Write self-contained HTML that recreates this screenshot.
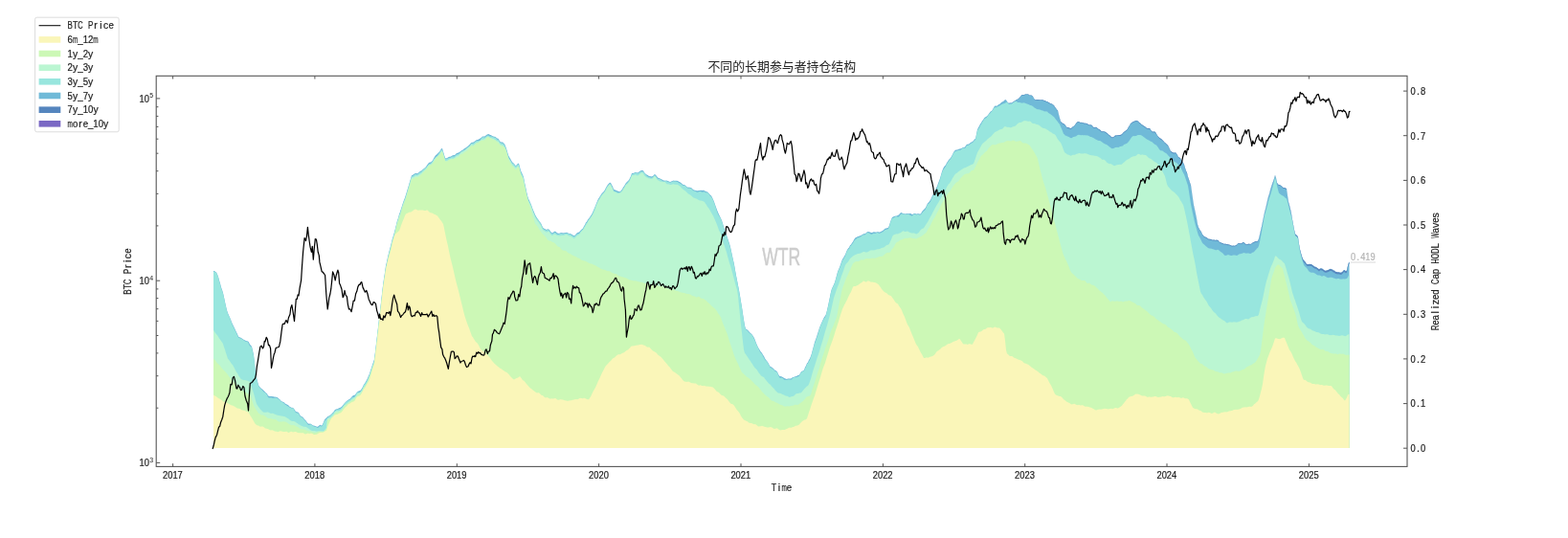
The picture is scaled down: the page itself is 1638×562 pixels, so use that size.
<!DOCTYPE html>
<html lang="zh"><head><meta charset="utf-8"><title>HODL Waves</title>
<style>
html,body{margin:0;padding:0;background:#fff;width:1638px;height:562px;overflow:hidden;font-family:"Liberation Sans",sans-serif}
svg{display:block}
</style></head><body>
<svg width="1638" height="562" viewBox="0 0 1638 562" font-family="'Liberation Sans', sans-serif"><defs><filter id="soft" x="0" y="0" width="100%" height="100%" filterUnits="userSpaceOnUse"><feGaussianBlur stdDeviation="0.45"/></filter></defs><g filter="url(#soft)"><rect width="1638" height="562" fill="#ffffff"/>
<g shape-rendering="geometricPrecision"><polygon fill="#70bad8" points="223.0,283.1 224.0,283.1 225.0,283.9 226.0,284.5 227.0,286.5 228.0,289.0 229.0,292.8 230.0,295.9 231.0,300.0 232.0,302.7 233.0,306.1 234.0,310.5 235.0,315.3 236.0,319.8 237.0,324.1 238.0,326.9 239.0,329.3 240.0,331.4 241.0,333.8 242.0,336.4 243.0,338.8 244.0,340.7 245.0,342.8 246.0,345.1 247.0,346.9 248.0,349.0 249.0,351.4 250.0,352.3 251.0,352.6 252.0,352.9 253.0,353.7 254.0,354.4 255.0,354.9 256.0,355.5 257.0,356.1 258.0,356.2 259.0,356.4 260.0,357.6 261.0,359.7 262.0,360.7 263.0,361.9 264.0,366.1 265.0,370.7 266.0,379.2 267.0,390.8 268.0,394.6 269.0,398.4 270.0,402.0 271.0,404.0 272.0,404.8 273.0,405.9 274.0,406.4 275.0,407.5 276.0,408.5 277.0,409.5 278.0,410.5 279.0,411.3 280.0,413.2 281.0,413.8 282.0,414.0 283.0,414.0 284.0,413.9 285.0,414.2 286.0,414.2 287.0,414.7 288.0,414.5 289.0,415.0 290.0,415.3 291.0,416.2 292.0,416.9 293.0,417.9 294.0,419.3 295.0,419.4 296.0,420.1 297.0,420.5 298.0,421.7 299.0,421.9 300.0,422.8 301.0,423.1 302.0,424.2 303.0,424.9 304.0,425.5 305.0,425.9 306.0,425.7 307.0,426.9 308.0,428.2 309.0,429.9 310.0,430.2 311.0,430.5 312.0,431.1 313.0,433.1 314.0,434.5 315.0,435.0 316.0,435.6 317.0,436.6 318.0,437.9 319.0,438.7 320.0,440.0 321.0,441.4 322.0,442.6 323.0,442.8 324.0,442.6 325.0,442.9 326.0,443.7 327.0,444.4 328.0,444.5 329.0,444.9 330.0,445.0 331.0,446.0 332.0,445.4 333.0,445.0 334.0,443.7 335.0,444.0 336.0,444.8 337.0,443.3 338.0,440.9 339.0,438.6 340.0,437.2 341.0,436.4 342.0,435.2 343.0,434.7 344.0,434.3 345.0,433.5 346.0,432.9 347.0,431.5 348.0,430.9 349.0,429.2 350.0,428.1 351.0,427.5 352.0,427.2 353.0,427.1 354.0,426.3 355.0,426.1 356.0,425.4 357.0,424.8 358.0,423.6 359.0,422.3 360.0,420.9 361.0,419.9 362.0,418.9 363.0,418.2 364.0,417.5 365.0,417.1 366.0,416.3 367.0,414.9 368.0,414.0 369.0,413.1 370.0,413.1 371.0,412.3 372.0,411.0 373.0,409.4 374.0,408.9 375.0,408.3 376.0,408.2 377.0,407.2 378.0,405.7 379.0,404.0 380.0,401.7 381.0,400.4 382.0,398.7 383.0,396.9 384.0,395.0 385.0,392.6 386.0,390.5 387.0,387.0 388.0,384.3 389.0,381.0 390.0,378.3 391.0,375.3 392.0,367.2 393.0,358.8 394.0,350.2 395.0,341.7 396.0,333.2 397.0,324.6 398.0,315.9 399.0,307.0 400.0,298.3 401.0,291.1 402.0,284.7 403.0,277.6 404.0,273.5 405.0,268.8 406.0,264.6 407.0,260.7 408.0,256.9 409.0,253.1 410.0,249.0 411.0,245.9 412.0,242.6 413.0,238.7 414.0,234.6 415.0,230.4 416.0,227.7 417.0,223.7 418.0,221.3 419.0,217.9 420.0,214.9 421.0,211.8 422.0,208.9 423.0,206.5 424.0,203.3 425.0,200.0 426.0,196.7 427.0,193.5 428.0,189.9 429.0,186.8 430.0,183.2 431.0,183.0 432.0,182.1 433.0,181.6 434.0,180.9 435.0,181.1 436.0,181.3 437.0,180.5 438.0,179.7 439.0,178.7 440.0,178.4 441.0,177.7 442.0,176.6 443.0,176.2 444.0,174.9 445.0,174.2 446.0,172.5 447.0,171.2 448.0,170.0 449.0,169.5 450.0,169.4 451.0,168.5 452.0,167.4 453.0,165.6 454.0,163.8 455.0,162.3 456.0,161.4 457.0,160.6 458.0,159.5 459.0,158.4 460.0,157.0 461.0,155.3 462.0,155.1 463.0,158.3 464.0,161.7 465.0,165.1 466.0,165.4 467.0,164.9 468.0,164.4 469.0,163.8 470.0,163.8 471.0,163.5 472.0,162.7 473.0,162.3 474.0,162.1 475.0,162.0 476.0,161.1 477.0,160.1 478.0,159.7 479.0,159.6 480.0,158.7 481.0,158.3 482.0,157.3 483.0,157.1 484.0,155.9 485.0,155.2 486.0,154.7 487.0,154.1 488.0,153.3 489.0,152.4 490.0,151.4 491.0,150.4 492.0,149.2 493.0,148.7 494.0,148.8 495.0,148.3 496.0,147.5 497.0,146.8 498.0,146.1 499.0,146.0 500.0,145.4 501.0,145.0 502.0,144.3 503.0,143.5 504.0,142.6 505.0,142.4 506.0,142.4 507.0,142.0 508.0,141.1 509.0,140.4 510.0,140.0 511.0,140.2 512.0,141.0 513.0,140.9 514.0,142.0 515.0,142.3 516.0,142.8 517.0,142.8 518.0,143.3 519.0,144.4 520.0,144.6 521.0,145.6 522.0,147.4 523.0,148.1 524.0,148.8 525.0,148.3 526.0,149.5 527.0,150.2 528.0,152.6 529.0,155.3 530.0,158.5 531.0,162.1 532.0,164.0 533.0,165.6 534.0,167.5 535.0,169.0 536.0,170.2 537.0,170.8 538.0,172.5 539.0,172.9 540.0,171.9 541.0,170.7 542.0,170.8 543.0,174.6 544.0,178.2 545.0,180.3 546.0,182.4 547.0,185.1 548.0,190.4 549.0,194.7 550.0,199.8 551.0,204.2 552.0,207.5 553.0,209.5 554.0,211.7 555.0,214.0 556.0,216.9 557.0,219.5 558.0,221.8 559.0,224.3 560.0,226.0 561.0,227.8 562.0,228.9 563.0,230.4 564.0,232.0 565.0,233.1 566.0,235.3 567.0,237.4 568.0,238.6 569.0,239.1 570.0,239.4 571.0,240.0 572.0,239.3 573.0,239.5 574.0,240.0 575.0,241.7 576.0,242.7 577.0,243.4 578.0,242.8 579.0,241.7 580.0,241.7 581.0,242.3 582.0,243.6 583.0,243.6 584.0,243.9 585.0,243.2 586.0,243.3 587.0,242.9 588.0,243.4 589.0,243.3 590.0,243.2 591.0,243.1 592.0,242.8 593.0,243.3 594.0,243.7 595.0,243.9 596.0,243.9 597.0,244.7 598.0,245.2 599.0,246.1 600.0,246.0 601.0,245.4 602.0,244.1 603.0,243.2 604.0,242.7 605.0,242.4 606.0,241.2 607.0,240.2 608.0,239.3 609.0,238.6 610.0,236.3 611.0,234.8 612.0,232.4 613.0,231.6 614.0,229.6 615.0,228.3 616.0,227.0 617.0,225.6 618.0,223.9 619.0,221.9 620.0,219.8 621.0,217.5 622.0,215.0 623.0,212.6 624.0,210.1 625.0,207.8 626.0,206.2 627.0,204.7 628.0,203.1 629.0,201.8 630.0,200.7 631.0,199.7 632.0,198.0 633.0,196.1 634.0,194.2 635.0,192.7 636.0,191.7 637.0,190.7 638.0,191.1 639.0,193.1 640.0,194.8 641.0,197.6 642.0,198.2 643.0,198.5 644.0,198.9 645.0,199.6 646.0,199.8 647.0,200.3 648.0,200.0 649.0,198.7 650.0,197.7 651.0,195.5 652.0,194.5 653.0,192.5 654.0,190.9 655.0,190.1 656.0,189.0 657.0,187.9 658.0,186.0 659.0,183.9 660.0,181.0 661.0,181.1 662.0,180.7 663.0,180.3 664.0,179.7 665.0,180.2 666.0,180.5 667.0,179.9 668.0,179.0 669.0,178.4 670.0,178.1 671.0,177.9 672.0,178.2 673.0,179.9 674.0,181.2 675.0,181.9 676.0,182.7 677.0,183.1 678.0,184.2 679.0,183.7 680.0,184.5 681.0,184.2 682.0,184.0 683.0,182.7 684.0,182.0 685.0,182.8 686.0,184.1 687.0,185.3 688.0,186.0 689.0,186.3 690.0,186.8 691.0,187.2 692.0,187.7 693.0,188.6 694.0,188.6 695.0,188.7 696.0,188.4 697.0,188.8 698.0,189.2 699.0,189.6 700.0,190.2 701.0,189.6 702.0,189.2 703.0,188.7 704.0,188.4 705.0,189.0 706.0,188.6 707.0,189.1 708.0,188.7 709.0,189.8 710.0,189.9 711.0,190.7 712.0,191.6 713.0,192.4 714.0,193.1 715.0,192.9 716.0,193.8 717.0,194.7 718.0,195.4 719.0,195.7 720.0,195.6 721.0,195.9 722.0,196.0 723.0,197.0 724.0,197.9 725.0,198.4 726.0,198.8 727.0,198.9 728.0,199.2 729.0,199.3 730.0,199.0 731.0,198.9 732.0,198.7 733.0,198.8 734.0,199.1 735.0,198.5 736.0,199.4 737.0,199.6 738.0,200.5 739.0,200.3 740.0,201.4 741.0,202.4 742.0,203.8 743.0,204.5 744.0,206.2 745.0,208.4 746.0,210.7 747.0,213.7 748.0,216.6 749.0,219.2 750.0,221.8 751.0,223.9 752.0,225.9 753.0,227.9 754.0,230.3 755.0,233.6 756.0,236.8 757.0,240.0 758.0,243.1 759.0,245.7 760.0,248.5 761.0,251.4 762.0,254.6 763.0,258.1 764.0,262.4 765.0,267.2 766.0,271.7 767.0,276.3 768.0,282.2 769.0,287.8 770.0,292.7 771.0,297.9 772.0,303.0 773.0,308.8 774.0,314.9 775.0,320.8 776.0,327.5 777.0,333.9 778.0,339.9 779.0,343.4 780.0,343.9 781.0,344.7 782.0,345.8 783.0,347.1 784.0,348.1 785.0,348.8 786.0,349.9 787.0,351.4 788.0,353.3 789.0,355.7 790.0,358.4 791.0,360.7 792.0,363.0 793.0,364.6 794.0,366.3 795.0,367.7 796.0,368.7 797.0,370.8 798.0,372.0 799.0,374.3 800.0,375.7 801.0,376.9 802.0,378.2 803.0,380.0 804.0,381.9 805.0,383.3 806.0,383.2 807.0,384.5 808.0,384.7 809.0,386.4 810.0,386.8 811.0,387.4 812.0,388.4 813.0,390.7 814.0,392.4 815.0,393.3 816.0,393.1 817.0,393.7 818.0,394.1 819.0,395.1 820.0,395.3 821.0,395.8 822.0,395.9 823.0,395.5 824.0,395.4 825.0,395.6 826.0,395.4 827.0,395.0 828.0,394.0 829.0,393.9 830.0,393.5 831.0,393.2 832.0,393.0 833.0,392.3 834.0,392.0 835.0,391.5 836.0,389.9 837.0,388.3 838.0,387.7 839.0,387.2 840.0,386.4 841.0,383.7 842.0,381.9 843.0,379.5 844.0,378.4 845.0,376.1 846.0,374.5 847.0,371.9 848.0,369.0 849.0,365.1 850.0,361.6 851.0,357.6 852.0,354.7 853.0,351.9 854.0,348.8 855.0,345.7 856.0,342.5 857.0,339.9 858.0,337.7 859.0,335.5 860.0,333.3 861.0,331.3 862.0,330.1 863.0,327.9 864.0,323.9 865.0,319.5 866.0,314.8 867.0,310.0 868.0,305.0 869.0,301.4 870.0,299.4 871.0,297.2 872.0,294.9 873.0,291.4 874.0,287.8 875.0,284.0 876.0,281.4 877.0,279.2 878.0,276.4 879.0,273.4 880.0,270.8 881.0,269.5 882.0,267.6 883.0,265.9 884.0,263.2 885.0,261.0 886.0,259.4 887.0,258.5 888.0,256.3 889.0,255.5 890.0,253.7 891.0,252.4 892.0,250.4 893.0,249.1 894.0,248.1 895.0,247.7 896.0,246.9 897.0,247.1 898.0,246.3 899.0,246.3 900.0,245.4 901.0,244.9 902.0,244.2 903.0,244.2 904.0,244.0 905.0,242.9 906.0,242.3 907.0,242.0 908.0,242.2 909.0,242.6 910.0,242.9 911.0,242.9 912.0,242.5 913.0,242.3 914.0,242.4 915.0,242.5 916.0,242.4 917.0,242.1 918.0,242.5 919.0,242.4 920.0,241.9 921.0,241.4 922.0,240.9 923.0,240.2 924.0,239.3 925.0,238.6 926.0,238.4 927.0,237.9 928.0,237.7 929.0,235.2 930.0,232.1 931.0,229.2 932.0,227.1 933.0,226.6 934.0,226.1 935.0,225.8 936.0,225.4 937.0,225.5 938.0,224.8 939.0,224.4 940.0,223.0 941.0,222.2 942.0,222.1 943.0,223.0 944.0,222.9 945.0,223.2 946.0,223.4 947.0,223.1 948.0,223.3 949.0,223.0 950.0,223.2 951.0,222.8 952.0,223.4 953.0,224.0 954.0,223.6 955.0,223.1 956.0,222.9 957.0,223.5 958.0,223.4 959.0,223.1 960.0,223.6 961.0,223.6 962.0,223.2 963.0,221.3 964.0,220.1 965.0,219.1 966.0,218.0 967.0,216.7 968.0,214.6 969.0,212.6 970.0,211.5 971.0,210.2 972.0,208.7 973.0,206.7 974.0,204.6 975.0,202.5 976.0,200.1 977.0,198.6 978.0,196.3 979.0,194.6 980.0,191.6 981.0,189.0 982.0,186.3 983.0,182.8 984.0,179.3 985.0,176.4 986.0,174.5 987.0,173.3 988.0,172.3 989.0,170.1 990.0,168.7 991.0,167.0 992.0,166.0 993.0,165.0 994.0,163.2 995.0,161.5 996.0,159.2 997.0,157.7 998.0,156.8 999.0,156.4 1000.0,156.4 1001.0,156.0 1002.0,155.4 1003.0,155.5 1004.0,155.0 1005.0,154.7 1006.0,153.8 1007.0,154.0 1008.0,153.5 1009.0,152.1 1010.0,150.8 1011.0,150.8 1012.0,150.5 1013.0,149.8 1014.0,148.8 1015.0,148.6 1016.0,147.7 1017.0,146.9 1018.0,145.3 1019.0,145.2 1020.0,140.0 1021.0,135.3 1022.0,133.3 1023.0,131.6 1024.0,129.4 1025.0,128.2 1026.0,126.3 1027.0,125.2 1028.0,123.6 1029.0,122.6 1030.0,122.0 1031.0,121.2 1032.0,120.3 1033.0,118.7 1034.0,117.6 1035.0,116.3 1036.0,115.9 1037.0,114.3 1038.0,112.4 1039.0,110.7 1040.0,110.6 1041.0,110.8 1042.0,110.3 1043.0,109.3 1044.0,108.7 1045.0,108.3 1046.0,107.3 1047.0,106.6 1048.0,105.9 1049.0,105.3 1050.0,104.3 1051.0,104.6 1052.0,105.9 1053.0,107.2 1054.0,108.0 1055.0,107.6 1056.0,107.7 1057.0,107.2 1058.0,106.8 1059.0,106.1 1060.0,105.6 1061.0,104.8 1062.0,104.0 1063.0,103.8 1064.0,103.0 1065.0,102.1 1066.0,100.8 1067.0,99.5 1068.0,99.1 1069.0,99.1 1070.0,99.0 1071.0,98.6 1072.0,98.2 1073.0,98.5 1074.0,98.6 1075.0,98.9 1076.0,99.7 1077.0,99.2 1078.0,100.0 1079.0,100.8 1080.0,102.7 1081.0,103.9 1082.0,104.5 1083.0,104.1 1084.0,103.9 1085.0,104.3 1086.0,104.2 1087.0,104.5 1088.0,104.2 1089.0,104.6 1090.0,104.4 1091.0,105.2 1092.0,105.3 1093.0,106.0 1094.0,105.9 1095.0,106.8 1096.0,107.3 1097.0,107.9 1098.0,108.5 1099.0,108.4 1100.0,109.4 1101.0,110.1 1102.0,112.0 1103.0,112.9 1104.0,114.4 1105.0,115.6 1106.0,119.7 1107.0,123.5 1108.0,126.8 1109.0,128.0 1110.0,128.8 1111.0,129.2 1112.0,129.8 1113.0,131.1 1114.0,132.4 1115.0,133.3 1116.0,133.1 1117.0,133.7 1118.0,133.7 1119.0,134.2 1120.0,132.8 1121.0,132.4 1122.0,131.4 1123.0,130.4 1124.0,128.9 1125.0,127.7 1126.0,127.3 1127.0,126.9 1128.0,127.7 1129.0,127.9 1130.0,127.8 1131.0,128.4 1132.0,128.2 1133.0,129.1 1134.0,128.4 1135.0,129.2 1136.0,129.2 1137.0,130.2 1138.0,130.4 1139.0,130.4 1140.0,130.6 1141.0,131.3 1142.0,132.7 1143.0,133.1 1144.0,132.9 1145.0,132.8 1146.0,133.6 1147.0,134.5 1148.0,134.9 1149.0,135.6 1150.0,136.5 1151.0,137.4 1152.0,137.3 1153.0,137.4 1154.0,137.5 1155.0,138.0 1156.0,138.8 1157.0,139.6 1158.0,140.5 1159.0,141.3 1160.0,142.1 1161.0,143.2 1162.0,143.6 1163.0,143.3 1164.0,142.4 1165.0,141.6 1166.0,141.5 1167.0,141.4 1168.0,141.3 1169.0,140.9 1170.0,141.1 1171.0,140.8 1172.0,140.2 1173.0,138.9 1174.0,138.0 1175.0,137.2 1176.0,136.4 1177.0,135.8 1178.0,134.6 1179.0,132.6 1180.0,130.9 1181.0,128.9 1182.0,128.5 1183.0,127.4 1184.0,127.3 1185.0,126.6 1186.0,126.6 1187.0,125.7 1188.0,126.5 1189.0,126.6 1190.0,128.0 1191.0,128.6 1192.0,129.5 1193.0,130.5 1194.0,130.7 1195.0,131.7 1196.0,132.0 1197.0,133.2 1198.0,133.8 1199.0,134.1 1200.0,133.9 1201.0,134.1 1202.0,135.4 1203.0,136.7 1204.0,137.7 1205.0,137.4 1206.0,137.5 1207.0,138.1 1208.0,139.7 1209.0,141.4 1210.0,142.7 1211.0,143.7 1212.0,144.6 1213.0,145.1 1214.0,145.9 1215.0,146.9 1216.0,147.9 1217.0,149.2 1218.0,149.8 1219.0,150.9 1220.0,151.8 1221.0,153.8 1222.0,155.9 1223.0,157.9 1224.0,158.6 1225.0,159.2 1226.0,159.6 1227.0,159.7 1228.0,159.2 1229.0,160.5 1230.0,162.0 1231.0,164.2 1232.0,164.4 1233.0,165.2 1234.0,167.1 1235.0,168.3 1236.0,170.1 1237.0,172.1 1238.0,175.6 1239.0,178.4 1240.0,180.6 1241.0,184.7 1242.0,187.6 1243.0,190.7 1244.0,193.6 1245.0,200.6 1246.0,207.5 1247.0,214.2 1248.0,218.8 1249.0,223.4 1250.0,228.6 1251.0,234.3 1252.0,237.5 1253.0,239.4 1254.0,240.9 1255.0,242.5 1256.0,244.8 1257.0,246.0 1258.0,247.2 1259.0,247.4 1260.0,248.0 1261.0,248.5 1262.0,249.5 1263.0,249.7 1264.0,249.8 1265.0,250.1 1266.0,250.4 1267.0,250.7 1268.0,250.5 1269.0,250.8 1270.0,250.9 1271.0,250.6 1272.0,251.0 1273.0,251.4 1274.0,252.9 1275.0,253.2 1276.0,253.7 1277.0,254.0 1278.0,254.5 1279.0,254.9 1280.0,254.6 1281.0,255.3 1282.0,255.0 1283.0,255.6 1284.0,255.4 1285.0,256.1 1286.0,256.6 1287.0,256.7 1288.0,256.8 1289.0,256.5 1290.0,256.9 1291.0,256.0 1292.0,255.7 1293.0,254.4 1294.0,254.3 1295.0,254.1 1296.0,254.4 1297.0,254.1 1298.0,253.5 1299.0,253.1 1300.0,253.7 1301.0,254.8 1302.0,255.2 1303.0,255.3 1304.0,254.8 1305.0,254.8 1306.0,254.9 1307.0,254.7 1308.0,254.0 1309.0,253.3 1310.0,253.1 1311.0,252.3 1312.0,252.3 1313.0,251.9 1314.0,251.7 1315.0,249.2 1316.0,244.9 1317.0,240.8 1318.0,236.6 1319.0,231.6 1320.0,226.4 1321.0,222.0 1322.0,218.2 1323.0,214.0 1324.0,209.5 1325.0,205.5 1326.0,202.4 1327.0,198.6 1328.0,195.3 1329.0,192.3 1330.0,189.6 1331.0,186.4 1332.0,182.9 1333.0,185.9 1334.0,190.7 1335.0,192.5 1336.0,193.1 1337.0,193.1 1338.0,193.9 1339.0,194.6 1340.0,195.8 1341.0,196.0 1342.0,196.2 1343.0,196.6 1344.0,197.2 1345.0,204.5 1346.0,211.1 1347.0,214.5 1348.0,218.6 1349.0,223.2 1350.0,229.2 1351.0,234.4 1352.0,240.0 1353.0,244.2 1354.0,245.4 1355.0,246.0 1356.0,247.9 1357.0,254.9 1358.0,260.5 1359.0,264.3 1360.0,267.7 1361.0,270.6 1362.0,272.0 1363.0,273.1 1364.0,274.3 1365.0,275.9 1366.0,275.9 1367.0,276.3 1368.0,275.7 1369.0,276.1 1370.0,275.9 1371.0,277.0 1372.0,277.6 1373.0,278.4 1374.0,278.8 1375.0,278.9 1376.0,280.0 1377.0,280.6 1378.0,281.6 1379.0,280.4 1380.0,280.4 1381.0,280.5 1382.0,281.2 1383.0,282.0 1384.0,282.7 1385.0,282.7 1386.0,282.6 1387.0,282.3 1388.0,281.8 1389.0,281.3 1390.0,280.7 1391.0,281.4 1392.0,281.5 1393.0,282.7 1394.0,282.6 1395.0,283.9 1396.0,283.8 1397.0,284.4 1398.0,284.2 1399.0,284.6 1400.0,284.7 1401.0,284.8 1402.0,284.2 1403.0,283.2 1404.0,282.0 1405.0,282.4 1406.0,283.4 1407.0,282.2 1408.0,277.6 1409.0,274.2 1409.5,273.5 1409.5,468.0 223.0,468.0"/><polygon fill="#5585be" points="1045.0,108.3 1046.0,107.3 1047.0,106.6 1048.0,105.9 1049.0,105.3 1050.0,104.3 1051.0,104.6 1052.0,105.9 1053.0,107.2 1054.0,108.0 1055.0,107.6 1056.0,107.7 1057.0,107.2 1058.0,106.8 1059.0,106.1 1060.0,105.6 1061.0,104.8 1062.0,104.0 1063.0,103.8 1064.0,103.0 1065.0,102.1 1066.0,100.8 1067.0,99.5 1068.0,99.1 1069.0,99.1 1070.0,99.0 1071.0,98.6 1072.0,98.2 1073.0,98.5 1074.0,98.6 1075.0,98.9 1076.0,99.7 1077.0,99.2 1078.0,100.0 1079.0,100.8 1080.0,102.7 1081.0,103.9 1082.0,104.5 1083.0,104.1 1084.0,103.9 1085.0,104.3 1086.0,104.2 1087.0,104.5 1088.0,104.2 1089.0,104.6 1090.0,104.4 1091.0,105.2 1092.0,105.3 1093.0,106.0 1094.0,105.9 1095.0,106.8 1096.0,107.3 1097.0,107.9 1098.0,108.5 1099.0,108.4 1100.0,109.4 1101.0,110.1 1102.0,112.0 1103.0,112.9 1104.0,114.4 1105.0,115.6 1106.0,119.7 1107.0,123.5 1108.0,126.8 1109.0,128.0 1110.0,128.8 1111.0,129.2 1112.0,129.8 1113.0,131.1 1114.0,132.4 1115.0,133.3 1116.0,133.1 1117.0,133.7 1118.0,133.7 1119.0,134.2 1120.0,132.8 1121.0,132.4 1122.0,131.4 1123.0,130.4 1124.0,128.9 1125.0,127.7 1126.0,127.3 1127.0,126.9 1128.0,127.7 1129.0,127.9 1130.0,127.8 1131.0,128.4 1132.0,128.2 1133.0,129.1 1134.0,128.4 1135.0,129.2 1136.0,129.2 1137.0,130.2 1138.0,130.4 1139.0,130.4 1140.0,130.6 1141.0,131.3 1142.0,132.7 1143.0,133.1 1144.0,132.9 1145.0,132.8 1146.0,133.6 1147.0,134.5 1148.0,134.9 1149.0,135.6 1150.0,136.5 1151.0,137.4 1152.0,137.3 1153.0,137.4 1154.0,137.5 1155.0,138.0 1156.0,138.8 1157.0,139.6 1158.0,140.5 1159.0,141.3 1160.0,142.1 1161.0,143.2 1162.0,143.6 1163.0,143.3 1164.0,142.4 1165.0,141.6 1166.0,141.5 1167.0,141.4 1168.0,141.3 1169.0,140.9 1170.0,141.1 1171.0,140.8 1172.0,140.2 1173.0,138.9 1174.0,138.0 1175.0,137.2 1176.0,136.4 1177.0,135.8 1178.0,134.6 1179.0,132.6 1180.0,130.9 1181.0,128.9 1182.0,128.5 1183.0,127.4 1184.0,127.3 1185.0,126.6 1186.0,126.6 1187.0,125.7 1188.0,126.5 1189.0,126.6 1190.0,128.0 1191.0,128.6 1192.0,129.5 1193.0,130.5 1194.0,130.7 1195.0,131.7 1196.0,132.0 1197.0,133.2 1198.0,133.8 1199.0,134.1 1200.0,133.9 1201.0,134.1 1202.0,135.4 1203.0,136.7 1204.0,137.7 1205.0,137.4 1206.0,137.5 1207.0,138.1 1208.0,139.7 1209.0,141.4 1210.0,142.7 1211.0,143.7 1212.0,144.6 1213.0,145.1 1214.0,145.9 1215.0,146.9 1216.0,147.9 1217.0,149.2 1218.0,149.8 1219.0,150.9 1220.0,151.8 1221.0,153.8 1222.0,155.9 1223.0,157.9 1224.0,158.6 1225.0,159.2 1226.0,159.6 1227.0,159.7 1228.0,159.2 1229.0,160.5 1230.0,162.0 1231.0,164.2 1232.0,164.4 1233.0,165.2 1234.0,167.1 1235.0,168.3 1236.0,170.1 1237.0,172.1 1238.0,175.6 1239.0,178.4 1240.0,180.6 1241.0,184.7 1242.0,187.6 1243.0,190.7 1244.0,193.6 1245.0,200.6 1246.0,207.5 1247.0,214.2 1248.0,218.8 1249.0,223.4 1250.0,228.6 1251.0,234.3 1252.0,237.5 1253.0,239.4 1254.0,240.9 1255.0,242.5 1256.0,244.8 1257.0,246.0 1258.0,247.2 1259.0,247.4 1260.0,248.0 1261.0,248.5 1262.0,249.5 1263.0,249.7 1264.0,249.8 1265.0,250.1 1266.0,250.4 1267.0,250.7 1268.0,250.5 1269.0,250.8 1270.0,250.9 1271.0,250.6 1272.0,251.0 1273.0,251.4 1274.0,252.9 1275.0,253.2 1276.0,253.7 1277.0,254.0 1278.0,254.5 1279.0,254.9 1280.0,254.6 1281.0,255.3 1282.0,255.0 1283.0,255.6 1284.0,255.4 1285.0,256.1 1286.0,256.6 1287.0,256.7 1288.0,256.8 1289.0,256.5 1290.0,256.9 1291.0,256.0 1292.0,255.7 1293.0,254.4 1294.0,254.3 1295.0,254.1 1296.0,254.4 1297.0,254.1 1298.0,253.5 1299.0,253.1 1300.0,253.7 1301.0,254.8 1302.0,255.2 1303.0,255.3 1304.0,254.8 1305.0,254.8 1306.0,254.9 1307.0,254.7 1308.0,254.0 1309.0,253.3 1310.0,253.1 1311.0,252.3 1312.0,252.3 1313.0,251.9 1314.0,251.7 1315.0,249.2 1316.0,244.9 1317.0,240.8 1318.0,236.6 1319.0,231.6 1320.0,226.4 1321.0,222.0 1322.0,218.2 1323.0,214.0 1324.0,209.5 1325.0,205.5 1326.0,202.4 1327.0,198.6 1328.0,195.3 1329.0,192.3 1330.0,189.6 1331.0,186.4 1332.0,182.9 1333.0,185.9 1334.0,190.7 1335.0,192.5 1336.0,193.1 1337.0,193.1 1338.0,193.9 1339.0,194.6 1340.0,195.8 1341.0,196.0 1342.0,196.2 1343.0,196.6 1344.0,197.2 1345.0,204.5 1346.0,211.1 1347.0,214.5 1348.0,218.6 1349.0,223.2 1350.0,229.2 1351.0,234.4 1352.0,240.0 1353.0,244.2 1354.0,245.4 1355.0,246.0 1356.0,247.9 1357.0,254.9 1358.0,260.5 1359.0,264.3 1360.0,267.7 1361.0,270.6 1362.0,272.0 1363.0,273.1 1364.0,274.3 1365.0,275.9 1366.0,275.9 1367.0,276.3 1368.0,275.7 1369.0,276.1 1370.0,275.9 1371.0,277.0 1372.0,277.6 1373.0,278.4 1374.0,278.8 1375.0,278.9 1376.0,280.0 1377.0,280.6 1378.0,281.6 1379.0,280.4 1380.0,280.4 1381.0,280.5 1382.0,281.2 1383.0,282.0 1384.0,282.7 1385.0,282.7 1386.0,282.6 1387.0,282.3 1388.0,281.8 1389.0,281.3 1390.0,280.7 1391.0,281.4 1392.0,281.5 1393.0,282.7 1394.0,282.6 1395.0,283.9 1396.0,283.8 1397.0,284.4 1398.0,284.2 1399.0,284.6 1400.0,284.7 1401.0,284.8 1402.0,284.2 1403.0,283.2 1404.0,282.0 1405.0,282.4 1406.0,283.4 1407.0,282.2 1408.0,277.6 1409.0,274.2 1409.5,273.5 1409.5,275.7 1409.0,276.3 1408.0,279.7 1407.0,284.4 1406.0,285.5 1405.0,284.5 1404.0,284.1 1403.0,285.3 1402.0,286.3 1401.0,286.9 1400.0,286.8 1399.0,286.6 1398.0,286.3 1397.0,286.4 1396.0,285.9 1395.0,285.9 1394.0,284.6 1393.0,284.7 1392.0,283.5 1391.0,283.3 1390.0,282.7 1389.0,283.3 1388.0,283.7 1387.0,284.2 1386.0,284.6 1385.0,284.7 1384.0,284.6 1383.0,283.9 1382.0,283.1 1381.0,282.4 1380.0,282.3 1379.0,282.3 1378.0,283.5 1377.0,282.5 1376.0,281.8 1375.0,280.8 1374.0,280.7 1373.0,280.3 1372.0,279.5 1371.0,278.8 1370.0,277.7 1369.0,277.9 1368.0,277.5 1367.0,278.1 1366.0,277.7 1365.0,277.6 1364.0,276.0 1363.0,274.9 1362.0,273.7 1361.0,272.3 1360.0,269.4 1359.0,265.9 1358.0,262.1 1357.0,256.4 1356.0,249.4 1355.0,247.4 1354.0,246.8 1353.0,245.5 1352.0,241.3 1351.0,235.6 1350.0,230.4 1349.0,224.4 1348.0,219.7 1347.0,215.5 1346.0,212.1 1345.0,205.4 1344.0,198.0 1343.0,197.4 1342.0,197.0 1341.0,196.8 1340.0,196.5 1339.0,195.3 1338.0,194.6 1337.0,193.8 1336.0,193.7 1335.0,193.2 1334.0,191.4 1333.0,186.6 1332.0,183.6 1331.0,187.1 1330.0,190.3 1329.0,193.0 1328.0,196.0 1327.0,199.3 1326.0,203.1 1325.0,206.2 1324.0,210.2 1323.0,214.7 1322.0,218.9 1321.0,222.7 1320.0,227.1 1319.0,232.3 1318.0,237.3 1317.0,241.5 1316.0,245.6 1315.0,249.8 1314.0,252.4 1313.0,252.6 1312.0,252.9 1311.0,253.0 1310.0,253.7 1309.0,254.0 1308.0,254.6 1307.0,255.3 1306.0,255.6 1305.0,255.5 1304.0,255.5 1303.0,256.0 1302.0,255.8 1301.0,255.5 1300.0,254.4 1299.0,253.8 1298.0,254.2 1297.0,254.8 1296.0,255.1 1295.0,254.8 1294.0,255.0 1293.0,255.1 1292.0,256.4 1291.0,256.7 1290.0,257.6 1289.0,257.2 1288.0,257.5 1287.0,257.4 1286.0,257.3 1285.0,256.8 1284.0,256.1 1283.0,256.4 1282.0,255.8 1281.0,256.0 1280.0,255.3 1279.0,255.6 1278.0,255.3 1277.0,254.7 1276.0,254.5 1275.0,253.9 1274.0,253.6 1273.0,252.2 1272.0,251.7 1271.0,251.4 1270.0,251.6 1269.0,251.5 1268.0,251.3 1267.0,251.5 1266.0,251.1 1265.0,250.9 1264.0,250.5 1263.0,250.4 1262.0,250.3 1261.0,249.2 1260.0,248.7 1259.0,248.2 1258.0,247.9 1257.0,246.7 1256.0,245.5 1255.0,243.2 1254.0,241.7 1253.0,240.1 1252.0,238.3 1251.0,235.0 1250.0,229.4 1249.0,224.2 1248.0,219.6 1247.0,215.0 1246.0,208.3 1245.0,201.3 1244.0,194.4 1243.0,191.5 1242.0,188.4 1241.0,185.5 1240.0,181.4 1239.0,179.2 1238.0,176.4 1237.0,172.9 1236.0,170.9 1235.0,169.1 1234.0,167.9 1233.0,166.0 1232.0,165.2 1231.0,165.0 1230.0,162.8 1229.0,161.3 1228.0,160.0 1227.0,160.5 1226.0,160.4 1225.0,160.0 1224.0,159.4 1223.0,158.7 1222.0,156.7 1221.0,154.6 1220.0,152.6 1219.0,151.7 1218.0,150.5 1217.0,150.0 1216.0,148.6 1215.0,147.7 1214.0,146.7 1213.0,145.9 1212.0,145.4 1211.0,144.5 1210.0,143.5 1209.0,142.1 1208.0,140.5 1207.0,138.9 1206.0,138.2 1205.0,138.2 1204.0,138.5 1203.0,137.5 1202.0,136.1 1201.0,134.9 1200.0,134.7 1199.0,134.8 1198.0,134.6 1197.0,134.0 1196.0,132.8 1195.0,132.5 1194.0,131.4 1193.0,131.3 1192.0,130.3 1191.0,129.3 1190.0,128.7 1189.0,127.3 1188.0,127.3 1187.0,126.5 1186.0,127.3 1185.0,127.3 1184.0,128.0 1183.0,128.2 1182.0,129.3 1181.0,129.6 1180.0,131.6 1179.0,133.4 1178.0,135.3 1177.0,136.6 1176.0,137.2 1175.0,137.9 1174.0,138.8 1173.0,139.7 1172.0,140.9 1171.0,141.5 1170.0,141.9 1169.0,141.6 1168.0,142.0 1167.0,142.1 1166.0,142.2 1165.0,142.4 1164.0,143.1 1163.0,144.0 1162.0,144.3 1161.0,143.9 1160.0,142.9 1159.0,142.0 1158.0,141.2 1157.0,140.3 1156.0,139.6 1155.0,138.7 1154.0,138.2 1153.0,138.1 1152.0,138.0 1151.0,138.2 1150.0,137.3 1149.0,136.4 1148.0,135.6 1147.0,135.2 1146.0,134.3 1145.0,133.5 1144.0,133.6 1143.0,133.8 1142.0,133.4 1141.0,132.0 1140.0,131.3 1139.0,131.2 1138.0,131.1 1137.0,130.9 1136.0,129.9 1135.0,129.9 1134.0,129.1 1133.0,129.8 1132.0,128.9 1131.0,129.1 1130.0,128.5 1129.0,128.6 1128.0,128.4 1127.0,127.6 1126.0,128.0 1125.0,128.5 1124.0,129.7 1123.0,131.1 1122.0,132.1 1121.0,133.1 1120.0,133.6 1119.0,135.0 1118.0,134.4 1117.0,134.4 1116.0,133.9 1115.0,134.0 1114.0,133.1 1113.0,131.8 1112.0,130.5 1111.0,129.9 1110.0,129.5 1109.0,128.7 1108.0,127.5 1107.0,124.2 1106.0,120.4 1105.0,116.3 1104.0,115.1 1103.0,113.6 1102.0,112.7 1101.0,110.8 1100.0,110.1 1099.0,109.1 1098.0,109.2 1097.0,108.6 1096.0,108.0 1095.0,107.4 1094.0,106.5 1093.0,106.6 1092.0,105.9 1091.0,105.9 1090.0,105.0 1089.0,105.2 1088.0,104.8 1087.0,105.0 1086.0,104.8 1085.0,104.9 1084.0,104.5 1083.0,104.7 1082.0,105.0 1081.0,104.5 1080.0,103.2 1079.0,101.3 1078.0,100.4 1077.0,99.7 1076.0,100.1 1075.0,99.4 1074.0,99.1 1073.0,98.9 1072.0,98.6 1071.0,99.0 1070.0,99.4 1069.0,99.4 1068.0,99.5 1067.0,99.9 1066.0,101.2 1065.0,102.4 1064.0,103.4 1063.0,104.1 1062.0,104.4 1061.0,105.1 1060.0,105.9 1059.0,106.4 1058.0,107.1 1057.0,107.4 1056.0,108.0 1055.0,107.9 1054.0,108.3 1053.0,107.4 1052.0,106.1 1051.0,104.8 1050.0,104.5 1049.0,105.4 1048.0,106.1 1047.0,106.7 1046.0,107.4 1045.0,108.5"/><polygon fill="#98e6de" points="223.0,283.7 224.0,283.8 225.0,284.5 226.0,285.1 227.0,287.1 228.0,289.6 229.0,294.1 230.0,297.1 231.0,301.2 232.0,303.4 233.0,306.7 234.0,311.1 235.0,315.9 236.0,320.4 237.0,324.8 238.0,327.7 239.0,329.9 240.0,332.1 241.0,334.6 242.0,337.6 243.0,340.1 244.0,341.8 245.0,343.9 246.0,346.0 247.0,348.0 248.0,350.2 249.0,352.6 250.0,353.1 251.0,353.4 252.0,353.6 253.0,354.4 254.0,355.0 255.0,355.7 256.0,356.5 257.0,356.8 258.0,356.8 259.0,357.5 260.0,359.5 261.0,361.4 262.0,362.0 263.0,362.9 264.0,367.4 265.0,371.9 266.0,380.1 267.0,391.8 268.0,395.7 269.0,399.4 270.0,402.8 271.0,404.7 272.0,405.7 273.0,407.1 274.0,407.6 275.0,408.9 276.0,409.8 277.0,410.3 278.0,411.3 279.0,412.4 280.0,415.0 281.0,415.5 282.0,415.4 283.0,415.3 284.0,415.5 285.0,415.9 286.0,415.7 287.0,415.8 288.0,415.6 289.0,415.8 290.0,416.2 291.0,417.0 292.0,417.7 293.0,418.5 294.0,419.9 295.0,420.0 296.0,421.0 297.0,421.4 298.0,422.7 299.0,423.0 300.0,424.2 301.0,424.2 302.0,425.2 303.0,425.7 304.0,426.2 305.0,426.5 306.0,426.3 307.0,427.5 308.0,429.4 309.0,431.1 310.0,431.5 311.0,431.3 312.0,432.3 313.0,434.3 314.0,435.6 315.0,435.6 316.0,436.4 317.0,437.4 318.0,439.1 319.0,439.7 320.0,441.0 321.0,442.4 322.0,443.8 323.0,443.9 324.0,443.3 325.0,443.5 326.0,444.3 327.0,445.1 328.0,445.6 329.0,445.7 330.0,445.6 331.0,446.7 332.0,446.7 333.0,446.4 334.0,445.0 335.0,445.2 336.0,445.4 337.0,444.2 338.0,441.8 339.0,440.0 340.0,438.7 341.0,437.8 342.0,436.4 343.0,435.4 344.0,434.9 345.0,434.1 346.0,433.5 347.0,432.3 348.0,431.8 349.0,430.1 350.0,429.3 351.0,428.4 352.0,427.8 353.0,427.7 354.0,427.2 355.0,427.4 356.0,426.5 357.0,425.7 358.0,424.4 359.0,423.1 360.0,421.5 361.0,420.6 362.0,419.5 363.0,419.0 364.0,418.1 365.0,418.0 366.0,417.0 367.0,415.9 368.0,415.0 369.0,414.7 370.0,414.7 371.0,413.6 372.0,411.6 373.0,410.0 374.0,409.6 375.0,409.9 376.0,409.6 377.0,408.3 378.0,406.6 379.0,404.7 380.0,402.3 381.0,401.0 382.0,399.8 383.0,398.0 384.0,396.6 385.0,393.8 386.0,391.5 387.0,388.1 388.0,385.3 389.0,382.4 390.0,379.6 391.0,376.7 392.0,368.2 393.0,359.7 394.0,351.2 395.0,342.7 396.0,333.8 397.0,325.2 398.0,316.8 399.0,308.1 400.0,299.6 401.0,292.5 402.0,286.5 403.0,279.5 404.0,275.3 405.0,270.1 406.0,265.7 407.0,261.8 408.0,258.2 409.0,253.9 410.0,249.6 411.0,246.5 412.0,243.2 413.0,239.3 414.0,235.2 415.0,231.0 416.0,228.5 417.0,224.7 418.0,222.4 419.0,219.1 420.0,216.1 421.0,213.1 422.0,209.8 423.0,207.5 424.0,204.2 425.0,201.2 426.0,197.7 427.0,194.2 428.0,190.6 429.0,187.5 430.0,184.2 431.0,184.3 432.0,183.3 433.0,182.6 434.0,181.7 435.0,182.3 436.0,182.2 437.0,181.2 438.0,180.5 439.0,179.8 440.0,179.5 441.0,178.3 442.0,177.2 443.0,176.8 444.0,175.5 445.0,175.1 446.0,173.9 447.0,172.6 448.0,171.5 449.0,171.0 450.0,170.8 451.0,169.3 452.0,168.2 453.0,166.6 454.0,165.6 455.0,164.3 456.0,163.3 457.0,162.5 458.0,160.8 459.0,159.6 460.0,157.8 461.0,156.6 462.0,156.5 463.0,159.2 464.0,162.5 465.0,165.7 466.0,166.6 467.0,165.8 468.0,165.6 469.0,164.9 470.0,165.0 471.0,164.5 472.0,163.8 473.0,163.5 474.0,163.5 475.0,163.2 476.0,162.1 477.0,161.6 478.0,161.1 479.0,161.1 480.0,159.9 481.0,159.3 482.0,158.0 483.0,157.8 484.0,156.9 485.0,156.6 486.0,156.2 487.0,155.2 488.0,154.3 489.0,153.5 490.0,152.9 491.0,151.9 492.0,150.3 493.0,149.8 494.0,149.7 495.0,149.6 496.0,148.2 497.0,147.8 498.0,146.9 499.0,147.3 500.0,146.9 501.0,146.9 502.0,145.8 503.0,144.3 504.0,143.2 505.0,143.3 506.0,143.5 507.0,143.3 508.0,142.3 509.0,141.6 510.0,141.4 511.0,141.9 512.0,142.5 513.0,142.3 514.0,142.7 515.0,142.9 516.0,143.4 517.0,143.4 518.0,144.0 519.0,145.4 520.0,145.8 521.0,146.6 522.0,148.2 523.0,149.0 524.0,149.7 525.0,149.4 526.0,150.6 527.0,151.4 528.0,153.9 529.0,156.6 530.0,159.8 531.0,163.5 532.0,165.5 533.0,167.2 534.0,168.7 535.0,170.2 536.0,171.1 537.0,171.5 538.0,173.3 539.0,173.6 540.0,172.8 541.0,171.8 542.0,171.9 543.0,176.1 544.0,179.5 545.0,181.8 546.0,183.5 547.0,186.2 548.0,191.9 549.0,196.4 550.0,201.8 551.0,205.6 552.0,209.0 553.0,210.5 554.0,212.5 555.0,214.7 556.0,218.0 557.0,220.7 558.0,222.9 559.0,225.2 560.0,226.9 561.0,228.5 562.0,229.5 563.0,231.0 564.0,232.6 565.0,233.7 566.0,235.9 567.0,238.0 568.0,239.4 569.0,239.8 570.0,240.4 571.0,240.7 572.0,240.0 573.0,240.3 574.0,241.0 575.0,242.8 576.0,243.8 577.0,244.4 578.0,243.9 579.0,243.1 580.0,243.0 581.0,243.7 582.0,244.7 583.0,244.7 584.0,244.7 585.0,244.1 586.0,244.2 587.0,244.1 588.0,244.5 589.0,244.3 590.0,244.1 591.0,244.0 592.0,243.4 593.0,244.0 594.0,244.3 595.0,244.6 596.0,244.7 597.0,245.7 598.0,246.2 599.0,247.0 600.0,247.0 601.0,246.3 602.0,244.9 603.0,244.4 604.0,244.1 605.0,244.0 606.0,242.2 607.0,241.2 608.0,239.9 609.0,239.5 610.0,236.9 611.0,236.1 612.0,233.3 613.0,232.9 614.0,230.7 615.0,229.3 616.0,227.7 617.0,226.5 618.0,225.4 619.0,223.1 620.0,220.6 621.0,218.1 622.0,215.6 623.0,213.2 624.0,211.2 625.0,209.1 626.0,207.6 627.0,205.6 628.0,204.1 629.0,203.1 630.0,201.8 631.0,201.0 632.0,198.9 633.0,197.1 634.0,195.0 635.0,194.1 636.0,193.1 637.0,192.0 638.0,192.4 639.0,194.5 640.0,196.5 641.0,199.2 642.0,199.7 643.0,200.0 644.0,200.3 645.0,200.9 646.0,201.3 647.0,201.2 648.0,200.8 649.0,199.5 650.0,199.0 651.0,196.8 652.0,195.5 653.0,193.7 654.0,192.1 655.0,191.4 656.0,190.0 657.0,189.0 658.0,187.0 659.0,185.1 660.0,182.0 661.0,182.0 662.0,181.5 663.0,181.1 664.0,180.3 665.0,180.8 666.0,181.3 667.0,181.0 668.0,180.0 669.0,179.2 670.0,179.5 671.0,179.1 672.0,179.5 673.0,180.5 674.0,181.8 675.0,182.9 676.0,183.9 677.0,184.5 678.0,185.3 679.0,185.1 680.0,185.8 681.0,185.4 682.0,185.0 683.0,183.5 684.0,183.2 685.0,183.9 686.0,185.3 687.0,186.4 688.0,186.9 689.0,186.9 690.0,187.5 691.0,188.1 692.0,189.0 693.0,189.6 694.0,189.2 695.0,189.3 696.0,189.1 697.0,189.7 698.0,190.2 699.0,190.2 700.0,190.8 701.0,190.2 702.0,190.0 703.0,189.6 704.0,189.2 705.0,189.8 706.0,189.3 707.0,190.0 708.0,189.7 709.0,191.2 710.0,191.3 711.0,192.1 712.0,192.5 713.0,193.6 714.0,193.9 715.0,193.6 716.0,194.4 717.0,195.3 718.0,196.2 719.0,196.8 720.0,196.6 721.0,196.8 722.0,196.7 723.0,198.0 724.0,199.1 725.0,199.4 726.0,199.5 727.0,200.1 728.0,200.8 729.0,200.8 730.0,200.2 731.0,200.0 732.0,200.1 733.0,200.6 734.0,200.8 735.0,200.2 736.0,200.6 737.0,200.9 738.0,201.4 739.0,201.1 740.0,202.1 741.0,203.2 742.0,204.9 743.0,205.5 744.0,207.3 745.0,209.3 746.0,211.7 747.0,214.7 748.0,217.8 749.0,221.1 750.0,223.4 751.0,225.4 752.0,226.7 753.0,228.8 754.0,231.2 755.0,234.3 756.0,237.6 757.0,241.1 758.0,243.9 759.0,246.6 760.0,249.3 761.0,252.4 762.0,255.6 763.0,259.1 764.0,263.5 765.0,268.4 766.0,272.6 767.0,277.4 768.0,283.0 769.0,288.7 770.0,293.4 771.0,298.6 772.0,304.1 773.0,309.6 774.0,315.7 775.0,321.4 776.0,328.7 777.0,334.9 778.0,341.3 779.0,344.1 780.0,344.9 781.0,345.4 782.0,346.9 783.0,348.0 784.0,348.7 785.0,349.4 786.0,350.5 787.0,352.5 788.0,354.5 789.0,356.8 790.0,359.2 791.0,361.6 792.0,363.6 793.0,365.5 794.0,367.7 795.0,369.1 796.0,370.0 797.0,371.9 798.0,373.7 799.0,375.4 800.0,376.7 801.0,377.6 802.0,379.1 803.0,380.9 804.0,382.7 805.0,384.5 806.0,384.3 807.0,385.7 808.0,385.5 809.0,387.5 810.0,387.8 811.0,388.5 812.0,389.1 813.0,391.7 814.0,393.7 815.0,395.1 816.0,394.4 817.0,394.7 818.0,395.3 819.0,396.6 820.0,396.7 821.0,396.8 822.0,396.8 823.0,396.5 824.0,396.2 825.0,396.6 826.0,396.6 827.0,396.4 828.0,394.8 829.0,394.5 830.0,394.1 831.0,394.2 832.0,394.1 833.0,393.6 834.0,393.2 835.0,392.6 836.0,390.5 837.0,388.9 838.0,388.3 839.0,387.8 840.0,387.2 841.0,385.1 842.0,383.3 843.0,380.6 844.0,379.6 845.0,377.4 846.0,376.0 847.0,372.9 848.0,369.7 849.0,365.9 850.0,362.5 851.0,359.1 852.0,356.4 853.0,353.6 854.0,350.5 855.0,347.2 856.0,343.6 857.0,340.8 858.0,338.4 859.0,336.2 860.0,333.9 861.0,332.4 862.0,331.2 863.0,328.7 864.0,324.6 865.0,320.4 866.0,315.8 867.0,310.8 868.0,305.6 869.0,302.0 870.0,300.1 871.0,297.9 872.0,295.6 873.0,292.2 874.0,288.7 875.0,284.9 876.0,282.2 877.0,280.2 878.0,277.7 879.0,274.7 880.0,272.0 881.0,270.8 882.0,269.0 883.0,267.2 884.0,264.3 885.0,262.0 886.0,260.5 887.0,260.0 888.0,257.6 889.0,256.6 890.0,255.0 891.0,253.9 892.0,252.0 893.0,250.8 894.0,249.7 895.0,249.2 896.0,248.0 897.0,248.5 898.0,247.5 899.0,247.5 900.0,246.4 901.0,245.8 902.0,245.3 903.0,245.5 904.0,245.0 905.0,243.7 906.0,243.0 907.0,243.2 908.0,243.4 909.0,244.3 910.0,244.7 911.0,244.8 912.0,243.9 913.0,243.8 914.0,244.0 915.0,243.6 916.0,243.2 917.0,242.8 918.0,244.0 919.0,243.6 920.0,243.4 921.0,242.4 922.0,242.4 923.0,241.4 924.0,240.6 925.0,239.9 926.0,239.8 927.0,239.5 928.0,239.1 929.0,236.4 930.0,233.1 931.0,230.1 932.0,228.0 933.0,227.8 934.0,227.2 935.0,226.6 936.0,226.0 937.0,226.6 938.0,226.5 939.0,226.4 940.0,224.9 941.0,223.7 942.0,223.4 943.0,223.6 944.0,223.5 945.0,223.8 946.0,224.2 947.0,223.7 948.0,223.9 949.0,223.6 950.0,224.4 951.0,224.7 952.0,225.6 953.0,225.6 954.0,224.2 955.0,223.7 956.0,223.8 957.0,224.6 958.0,224.3 959.0,223.7 960.0,224.5 961.0,224.6 962.0,224.3 963.0,222.7 964.0,221.5 965.0,220.6 966.0,219.7 967.0,218.2 968.0,215.7 969.0,213.5 970.0,212.9 971.0,211.8 972.0,210.5 973.0,208.0 974.0,206.1 975.0,203.7 976.0,201.4 977.0,199.9 978.0,197.7 979.0,196.2 980.0,193.3 981.0,190.5 982.0,187.7 983.0,183.6 984.0,180.5 985.0,178.0 986.0,176.5 987.0,175.2 988.0,173.6 989.0,171.5 990.0,170.0 991.0,168.4 992.0,167.1 993.0,166.2 994.0,164.3 995.0,162.6 996.0,160.1 997.0,158.9 998.0,158.0 999.0,157.7 1000.0,157.5 1001.0,157.1 1002.0,156.8 1003.0,156.9 1004.0,156.2 1005.0,155.3 1006.0,154.4 1007.0,154.6 1008.0,154.9 1009.0,153.4 1010.0,152.0 1011.0,151.9 1012.0,151.6 1013.0,151.0 1014.0,149.9 1015.0,149.5 1016.0,149.0 1017.0,148.0 1018.0,146.6 1019.0,146.2 1020.0,141.0 1021.0,136.4 1022.0,134.7 1023.0,133.4 1024.0,131.2 1025.0,129.7 1026.0,127.7 1027.0,126.2 1028.0,124.7 1029.0,123.6 1030.0,123.4 1031.0,122.3 1032.0,121.0 1033.0,119.6 1034.0,118.7 1035.0,117.4 1036.0,116.5 1037.0,114.9 1038.0,113.5 1039.0,112.1 1040.0,112.4 1041.0,111.8 1042.0,111.4 1043.0,111.0 1044.0,110.4 1045.0,110.0 1046.0,109.3 1047.0,108.8 1048.0,108.5 1049.0,108.0 1050.0,107.7 1051.0,107.0 1052.0,106.8 1053.0,107.8 1054.0,108.9 1055.0,108.6 1056.0,108.8 1057.0,108.4 1058.0,107.4 1059.0,106.7 1060.0,106.2 1061.0,105.8 1062.0,106.1 1063.0,106.9 1064.0,107.1 1065.0,106.9 1066.0,107.3 1067.0,107.4 1068.0,107.7 1069.0,107.2 1070.0,107.4 1071.0,107.7 1072.0,108.2 1073.0,108.5 1074.0,109.1 1075.0,109.3 1076.0,109.9 1077.0,110.0 1078.0,110.4 1079.0,110.9 1080.0,111.9 1081.0,112.8 1082.0,113.3 1083.0,114.0 1084.0,114.3 1085.0,114.3 1086.0,114.6 1087.0,114.7 1088.0,115.2 1089.0,115.4 1090.0,115.8 1091.0,116.6 1092.0,116.3 1093.0,116.4 1094.0,116.4 1095.0,117.7 1096.0,118.6 1097.0,119.0 1098.0,119.8 1099.0,120.4 1100.0,121.4 1101.0,122.1 1102.0,123.4 1103.0,124.7 1104.0,125.9 1105.0,127.3 1106.0,128.8 1107.0,129.8 1108.0,132.4 1109.0,134.6 1110.0,137.0 1111.0,139.7 1112.0,140.6 1113.0,141.8 1114.0,141.8 1115.0,142.4 1116.0,142.8 1117.0,143.3 1118.0,144.0 1119.0,144.2 1120.0,144.0 1121.0,143.1 1122.0,142.9 1123.0,142.6 1124.0,142.5 1125.0,141.6 1126.0,140.9 1127.0,140.8 1128.0,141.0 1129.0,141.3 1130.0,141.2 1131.0,141.1 1132.0,141.5 1133.0,141.1 1134.0,141.5 1135.0,141.3 1136.0,141.5 1137.0,141.7 1138.0,142.2 1139.0,143.0 1140.0,143.1 1141.0,143.4 1142.0,144.0 1143.0,144.6 1144.0,145.3 1145.0,145.7 1146.0,146.3 1147.0,146.7 1148.0,146.9 1149.0,147.1 1150.0,147.5 1151.0,148.2 1152.0,149.1 1153.0,149.8 1154.0,150.2 1155.0,150.7 1156.0,151.1 1157.0,151.8 1158.0,152.4 1159.0,153.4 1160.0,154.1 1161.0,154.9 1162.0,155.3 1163.0,155.1 1164.0,154.8 1165.0,154.1 1166.0,154.0 1167.0,153.7 1168.0,154.0 1169.0,153.7 1170.0,153.1 1171.0,153.0 1172.0,152.5 1173.0,152.4 1174.0,151.1 1175.0,150.7 1176.0,150.2 1177.0,150.0 1178.0,149.0 1179.0,147.9 1180.0,146.5 1181.0,145.0 1182.0,143.6 1183.0,142.4 1184.0,142.1 1185.0,142.2 1186.0,142.0 1187.0,141.9 1188.0,141.3 1189.0,141.1 1190.0,141.1 1191.0,140.9 1192.0,141.3 1193.0,141.8 1194.0,142.5 1195.0,143.3 1196.0,144.1 1197.0,144.8 1198.0,145.4 1199.0,146.0 1200.0,146.4 1201.0,146.9 1202.0,147.7 1203.0,148.0 1204.0,148.7 1205.0,149.8 1206.0,150.4 1207.0,151.2 1208.0,151.4 1209.0,153.0 1210.0,154.2 1211.0,156.1 1212.0,157.0 1213.0,157.4 1214.0,157.3 1215.0,158.1 1216.0,158.8 1217.0,159.6 1218.0,160.0 1219.0,160.8 1220.0,162.1 1221.0,163.2 1222.0,164.0 1223.0,165.4 1224.0,165.9 1225.0,167.5 1226.0,167.9 1227.0,169.1 1228.0,169.5 1229.0,170.3 1230.0,171.1 1231.0,171.9 1232.0,172.5 1233.0,174.2 1234.0,176.1 1235.0,178.6 1236.0,180.4 1237.0,182.3 1238.0,184.9 1239.0,188.1 1240.0,191.1 1241.0,194.0 1242.0,200.0 1243.0,206.8 1244.0,213.4 1245.0,218.2 1246.0,223.0 1247.0,227.6 1248.0,232.1 1249.0,235.7 1250.0,239.3 1251.0,242.8 1252.0,245.9 1253.0,247.5 1254.0,249.5 1255.0,251.6 1256.0,253.7 1257.0,254.7 1258.0,255.4 1259.0,256.5 1260.0,257.4 1261.0,258.1 1262.0,259.2 1263.0,259.2 1264.0,259.7 1265.0,259.5 1266.0,260.0 1267.0,260.3 1268.0,260.6 1269.0,261.0 1270.0,261.2 1271.0,261.3 1272.0,260.8 1273.0,261.3 1274.0,262.0 1275.0,263.0 1276.0,263.5 1277.0,264.3 1278.0,265.3 1279.0,266.5 1280.0,266.9 1281.0,266.7 1282.0,266.5 1283.0,266.1 1284.0,266.5 1285.0,266.7 1286.0,267.0 1287.0,266.9 1288.0,266.6 1289.0,266.4 1290.0,266.4 1291.0,266.8 1292.0,266.9 1293.0,266.6 1294.0,265.7 1295.0,265.2 1296.0,265.2 1297.0,264.8 1298.0,264.7 1299.0,264.0 1300.0,264.3 1301.0,264.4 1302.0,264.7 1303.0,264.4 1304.0,264.5 1305.0,264.8 1306.0,265.0 1307.0,264.8 1308.0,264.1 1309.0,263.6 1310.0,263.2 1311.0,261.7 1312.0,260.9 1313.0,259.6 1314.0,259.1 1315.0,256.7 1316.0,252.4 1317.0,247.4 1318.0,241.9 1319.0,236.2 1320.0,230.8 1321.0,225.1 1322.0,221.8 1323.0,218.1 1324.0,214.4 1325.0,210.0 1326.0,206.9 1327.0,204.1 1328.0,200.7 1329.0,197.0 1330.0,193.2 1331.0,189.4 1332.0,185.6 1333.0,188.8 1334.0,193.7 1335.0,197.9 1336.0,201.5 1337.0,202.5 1338.0,203.3 1339.0,204.0 1340.0,204.5 1341.0,204.9 1342.0,206.0 1343.0,207.0 1344.0,207.6 1345.0,210.8 1346.0,214.5 1347.0,218.7 1348.0,222.4 1349.0,226.5 1350.0,230.6 1351.0,236.3 1352.0,241.6 1353.0,246.1 1354.0,247.1 1355.0,247.6 1356.0,249.7 1357.0,256.8 1358.0,262.8 1359.0,266.4 1360.0,270.2 1361.0,273.8 1362.0,276.8 1363.0,278.2 1364.0,279.1 1365.0,280.0 1366.0,281.3 1367.0,282.9 1368.0,284.1 1369.0,284.5 1370.0,284.7 1371.0,284.8 1372.0,284.8 1373.0,285.3 1374.0,285.8 1375.0,286.5 1376.0,287.3 1377.0,287.4 1378.0,287.4 1379.0,287.7 1380.0,288.3 1381.0,288.8 1382.0,288.2 1383.0,288.1 1384.0,288.4 1385.0,289.0 1386.0,289.8 1387.0,290.0 1388.0,290.3 1389.0,289.8 1390.0,289.8 1391.0,289.8 1392.0,290.0 1393.0,290.4 1394.0,290.8 1395.0,291.1 1396.0,291.4 1397.0,291.1 1398.0,291.1 1399.0,291.0 1400.0,291.7 1401.0,291.6 1402.0,291.7 1403.0,291.3 1404.0,291.5 1405.0,291.4 1406.0,291.3 1407.0,290.9 1408.0,289.5 1409.0,287.3 1409.5,285.9 1409.5,468.0 223.0,468.0"/><polygon fill="#bbf6d2" points="223.0,344.7 224.0,346.4 225.0,348.1 226.0,348.9 227.0,350.2 228.0,351.7 229.0,353.4 230.0,354.7 231.0,356.2 232.0,357.6 233.0,359.3 234.0,362.4 235.0,365.3 236.0,368.8 237.0,371.5 238.0,374.7 239.0,375.7 240.0,377.3 241.0,378.4 242.0,380.3 243.0,381.1 244.0,382.9 245.0,384.7 246.0,386.9 247.0,388.8 248.0,390.0 249.0,391.9 250.0,393.5 251.0,395.1 252.0,396.2 253.0,396.4 254.0,396.9 255.0,397.3 256.0,397.1 257.0,397.4 258.0,397.6 259.0,398.1 260.0,398.4 261.0,398.5 262.0,401.3 263.0,404.5 264.0,407.7 265.0,410.9 266.0,414.5 267.0,418.4 268.0,421.7 269.0,423.6 270.0,424.9 271.0,426.2 272.0,427.7 273.0,428.6 274.0,429.7 275.0,430.4 276.0,430.7 277.0,430.8 278.0,430.7 279.0,430.6 280.0,430.4 281.0,430.9 282.0,431.5 283.0,432.0 284.0,431.7 285.0,431.8 286.0,432.2 287.0,432.8 288.0,433.1 289.0,433.5 290.0,433.8 291.0,434.1 292.0,434.3 293.0,434.2 294.0,434.7 295.0,434.5 296.0,435.0 297.0,435.0 298.0,435.5 299.0,436.1 300.0,436.8 301.0,437.3 302.0,438.1 303.0,439.0 304.0,439.6 305.0,439.9 306.0,440.0 307.0,440.1 308.0,440.5 309.0,441.1 310.0,442.1 311.0,442.2 312.0,443.4 313.0,443.5 314.0,444.5 315.0,444.7 316.0,445.3 317.0,445.8 318.0,445.7 319.0,446.1 320.0,446.1 321.0,446.9 322.0,447.6 323.0,448.3 324.0,448.9 325.0,449.5 326.0,449.9 327.0,449.9 328.0,449.9 329.0,450.1 330.0,450.4 331.0,450.5 332.0,450.6 333.0,450.2 334.0,450.3 335.0,450.3 336.0,450.4 337.0,450.3 338.0,450.5 339.0,449.6 340.0,448.3 341.0,446.9 342.0,437.5 343.0,437.1 344.0,436.9 345.0,436.1 346.0,435.7 347.0,434.1 348.0,433.5 349.0,431.7 350.0,430.3 351.0,429.5 352.0,428.9 353.0,429.5 354.0,428.9 355.0,429.1 356.0,428.0 357.0,427.3 358.0,425.7 359.0,424.6 360.0,423.2 361.0,422.8 362.0,421.7 363.0,421.0 364.0,419.9 365.0,419.4 366.0,418.7 367.0,417.6 368.0,417.3 369.0,416.2 370.0,415.8 371.0,414.7 372.0,413.5 373.0,411.7 374.0,410.9 375.0,410.5 376.0,410.2 377.0,409.2 378.0,408.2 379.0,406.4 380.0,404.2 381.0,403.4 382.0,401.8 383.0,400.1 384.0,397.6 385.0,395.2 386.0,392.8 387.0,389.4 388.0,386.4 389.0,383.0 390.0,380.4 391.0,377.8 392.0,370.0 393.0,361.3 394.0,352.7 395.0,343.4 396.0,335.3 397.0,326.7 398.0,318.6 399.0,309.7 400.0,301.0 401.0,293.9 402.0,287.2 403.0,280.3 404.0,275.9 405.0,271.3 406.0,267.3 407.0,263.4 408.0,259.4 409.0,255.1 410.0,251.3 411.0,248.9 412.0,245.5 413.0,241.2 414.0,236.3 415.0,231.9 416.0,229.5 417.0,225.6 418.0,223.4 419.0,220.0 420.0,216.7 421.0,213.7 422.0,210.8 423.0,209.0 424.0,206.0 425.0,202.8 426.0,199.1 427.0,195.7 428.0,192.4 429.0,189.1 430.0,185.4 431.0,185.4 432.0,184.9 433.0,184.5 434.0,183.4 435.0,183.4 436.0,183.7 437.0,183.0 438.0,182.5 439.0,181.5 440.0,181.2 441.0,180.1 442.0,178.9 443.0,178.2 444.0,177.3 445.0,176.4 446.0,174.7 447.0,173.5 448.0,172.4 449.0,172.1 450.0,171.7 451.0,170.8 452.0,169.8 453.0,167.6 454.0,166.2 455.0,164.9 456.0,163.9 457.0,163.5 458.0,162.2 459.0,161.4 460.0,159.7 461.0,158.3 462.0,157.6 463.0,160.7 464.0,164.3 465.0,167.7 466.0,168.1 467.0,167.6 468.0,167.5 469.0,166.6 470.0,166.2 471.0,165.6 472.0,165.5 473.0,165.7 474.0,165.5 475.0,165.1 476.0,163.8 477.0,163.1 478.0,162.6 479.0,162.4 480.0,161.1 481.0,160.2 482.0,158.7 483.0,158.7 484.0,158.3 485.0,157.4 486.0,156.8 487.0,155.8 488.0,154.9 489.0,154.2 490.0,153.5 491.0,152.6 492.0,151.5 493.0,150.7 494.0,151.7 495.0,151.2 496.0,150.3 497.0,149.3 498.0,148.8 499.0,148.8 500.0,148.2 501.0,147.5 502.0,146.7 503.0,145.8 504.0,145.7 505.0,145.4 506.0,145.3 507.0,144.4 508.0,143.7 509.0,142.9 510.0,142.5 511.0,142.9 512.0,144.1 513.0,144.1 514.0,144.6 515.0,144.7 516.0,145.1 517.0,146.0 518.0,146.3 519.0,147.7 520.0,147.0 521.0,148.0 522.0,149.9 523.0,151.0 524.0,151.6 525.0,151.4 526.0,152.7 527.0,153.4 528.0,155.1 529.0,157.6 530.0,161.2 531.0,164.7 532.0,166.7 533.0,167.8 534.0,170.2 535.0,171.6 536.0,173.2 537.0,173.6 538.0,175.3 539.0,175.6 540.0,174.7 541.0,173.4 542.0,173.4 543.0,177.8 544.0,181.6 545.0,183.7 546.0,184.7 547.0,187.6 548.0,192.6 549.0,197.4 550.0,202.4 551.0,206.6 552.0,210.1 553.0,212.0 554.0,214.2 555.0,216.3 556.0,219.0 557.0,222.0 558.0,224.2 559.0,226.9 560.0,228.6 561.0,230.2 562.0,231.5 563.0,232.4 564.0,234.6 565.0,235.6 566.0,238.2 567.0,239.8 568.0,241.1 569.0,241.5 570.0,242.0 571.0,242.7 572.0,242.0 573.0,242.1 574.0,242.5 575.0,244.5 576.0,245.6 577.0,246.2 578.0,245.3 579.0,244.5 580.0,244.8 581.0,245.2 582.0,246.2 583.0,245.9 584.0,246.5 585.0,246.2 586.0,246.3 587.0,245.8 588.0,246.2 589.0,245.8 590.0,245.6 591.0,245.1 592.0,245.1 593.0,245.8 594.0,246.2 595.0,246.8 596.0,246.6 597.0,247.4 598.0,247.8 599.0,249.0 600.0,249.0 601.0,248.2 602.0,246.9 603.0,246.0 604.0,245.6 605.0,244.9 606.0,243.7 607.0,242.2 608.0,241.2 609.0,240.3 610.0,238.7 611.0,237.3 612.0,235.2 613.0,233.9 614.0,232.0 615.0,230.5 616.0,229.2 617.0,228.1 618.0,226.1 619.0,224.4 620.0,222.7 621.0,220.6 622.0,217.9 623.0,214.6 624.0,212.3 625.0,209.7 626.0,208.5 627.0,206.9 628.0,205.2 629.0,203.7 630.0,202.4 631.0,201.6 632.0,200.2 633.0,198.7 634.0,196.5 635.0,194.7 636.0,193.8 637.0,192.6 638.0,193.2 639.0,195.2 640.0,197.1 641.0,199.9 642.0,200.3 643.0,200.9 644.0,201.2 645.0,201.9 646.0,201.9 647.0,201.8 648.0,201.6 649.0,200.7 650.0,199.8 651.0,197.7 652.0,196.6 653.0,194.7 654.0,193.1 655.0,192.5 656.0,191.4 657.0,190.2 658.0,188.7 659.0,186.3 660.0,183.8 661.0,183.3 662.0,183.2 663.0,182.8 664.0,182.6 665.0,183.4 666.0,183.3 667.0,183.2 668.0,182.1 669.0,181.4 670.0,180.2 671.0,180.4 672.0,181.3 673.0,183.3 674.0,184.3 675.0,184.9 676.0,185.7 677.0,185.8 678.0,186.7 679.0,186.3 680.0,187.2 681.0,186.6 682.0,186.4 683.0,184.7 684.0,184.1 685.0,185.0 686.0,186.7 687.0,188.2 688.0,188.6 689.0,189.2 690.0,189.8 691.0,189.7 692.0,189.8 693.0,190.2 694.0,189.8 695.0,190.4 696.0,191.7 697.0,192.4 698.0,192.3 699.0,192.4 700.0,193.1 701.0,192.9 702.0,192.7 703.0,192.3 704.0,192.5 705.0,192.8 706.0,192.8 707.0,193.0 708.0,192.8 709.0,193.7 710.0,194.3 711.0,195.2 712.0,196.4 713.0,197.3 714.0,198.2 715.0,198.8 716.0,199.5 717.0,200.6 718.0,201.4 719.0,202.6 720.0,202.9 721.0,203.4 722.0,204.3 723.0,205.2 724.0,206.2 725.0,206.8 726.0,207.1 727.0,207.5 728.0,207.7 729.0,208.6 730.0,209.1 731.0,209.4 732.0,209.6 733.0,209.8 734.0,210.0 735.0,210.5 736.0,211.0 737.0,212.8 738.0,213.9 739.0,215.9 740.0,216.9 741.0,218.4 742.0,220.3 743.0,222.2 744.0,223.8 745.0,225.6 746.0,227.8 747.0,230.0 748.0,232.2 749.0,234.7 750.0,237.5 751.0,240.4 752.0,242.3 753.0,244.5 754.0,247.7 755.0,251.2 756.0,254.5 757.0,257.4 758.0,260.5 759.0,263.5 760.0,267.5 761.0,270.9 762.0,274.5 763.0,277.5 764.0,280.9 765.0,284.6 766.0,288.4 767.0,292.1 768.0,296.1 769.0,299.5 770.0,303.1 771.0,309.3 772.0,319.6 773.0,329.7 774.0,339.2 775.0,347.7 776.0,356.7 777.0,365.3 778.0,368.8 779.0,369.9 780.0,371.6 781.0,373.0 782.0,374.5 783.0,375.9 784.0,377.3 785.0,378.9 786.0,380.3 787.0,382.0 788.0,383.5 789.0,384.7 790.0,385.6 791.0,386.8 792.0,388.4 793.0,389.9 794.0,391.1 795.0,392.4 796.0,393.1 797.0,393.8 798.0,394.1 799.0,395.8 800.0,396.8 801.0,398.3 802.0,399.3 803.0,400.5 804.0,401.3 805.0,402.1 806.0,403.6 807.0,404.4 808.0,405.5 809.0,406.5 810.0,407.9 811.0,408.8 812.0,410.0 813.0,410.4 814.0,410.8 815.0,410.8 816.0,411.3 817.0,411.7 818.0,412.3 819.0,412.6 820.0,413.3 821.0,413.4 822.0,413.8 823.0,414.0 824.0,414.7 825.0,414.9 826.0,414.5 827.0,414.2 828.0,414.0 829.0,413.7 830.0,412.9 831.0,411.7 832.0,411.3 833.0,411.0 834.0,411.0 835.0,410.4 836.0,410.4 837.0,410.2 838.0,409.0 839.0,407.8 840.0,406.4 841.0,405.4 842.0,404.5 843.0,403.5 844.0,402.9 845.0,401.3 846.0,398.6 847.0,395.7 848.0,392.0 849.0,388.4 850.0,385.3 851.0,382.2 852.0,379.3 853.0,375.8 854.0,372.7 855.0,370.1 856.0,366.9 857.0,363.6 858.0,359.9 859.0,356.8 860.0,353.4 861.0,349.7 862.0,346.3 863.0,343.0 864.0,339.7 865.0,336.2 866.0,332.5 867.0,329.0 868.0,324.8 869.0,320.2 870.0,315.7 871.0,311.3 872.0,308.3 873.0,305.3 874.0,302.3 875.0,299.5 876.0,297.2 877.0,294.0 878.0,291.4 879.0,288.3 880.0,285.8 881.0,283.0 882.0,280.1 883.0,277.0 884.0,275.5 885.0,274.5 886.0,273.4 887.0,271.8 888.0,270.2 889.0,269.2 890.0,268.5 891.0,267.4 892.0,266.9 893.0,266.3 894.0,266.0 895.0,265.5 896.0,265.1 897.0,264.9 898.0,264.8 899.0,264.5 900.0,263.9 901.0,263.5 902.0,263.0 903.0,263.1 904.0,263.4 905.0,263.4 906.0,263.4 907.0,262.8 908.0,262.5 909.0,261.6 910.0,261.6 911.0,261.3 912.0,261.4 913.0,261.3 914.0,261.2 915.0,260.7 916.0,260.4 917.0,260.2 918.0,260.3 919.0,260.1 920.0,259.6 921.0,259.0 922.0,258.7 923.0,258.5 924.0,258.1 925.0,257.0 926.0,256.2 927.0,255.8 928.0,255.7 929.0,254.5 930.0,252.3 931.0,250.2 932.0,247.6 933.0,245.7 934.0,245.2 935.0,244.7 936.0,244.5 937.0,244.3 938.0,244.4 939.0,243.7 940.0,243.4 941.0,242.9 942.0,242.2 943.0,241.5 944.0,241.3 945.0,241.9 946.0,241.9 947.0,241.7 948.0,241.6 949.0,242.0 950.0,242.7 951.0,242.9 952.0,243.6 953.0,243.4 954.0,243.5 955.0,243.5 956.0,243.9 957.0,244.5 958.0,244.2 959.0,243.5 960.0,242.7 961.0,241.1 962.0,239.9 963.0,239.0 964.0,238.7 965.0,238.3 966.0,236.5 967.0,235.0 968.0,233.5 969.0,232.1 970.0,230.3 971.0,228.2 972.0,226.5 973.0,224.7 974.0,222.7 975.0,220.8 976.0,219.0 977.0,217.0 978.0,215.3 979.0,213.5 980.0,212.1 981.0,210.2 982.0,208.5 983.0,206.8 984.0,205.0 985.0,203.1 986.0,201.4 987.0,199.9 988.0,197.8 989.0,195.6 990.0,193.8 991.0,192.2 992.0,191.5 993.0,189.7 994.0,188.2 995.0,186.3 996.0,184.8 997.0,183.0 998.0,181.7 999.0,180.9 1000.0,180.5 1001.0,179.4 1002.0,178.7 1003.0,178.0 1004.0,177.6 1005.0,176.8 1006.0,176.2 1007.0,175.5 1008.0,175.3 1009.0,174.9 1010.0,174.3 1011.0,173.9 1012.0,173.3 1013.0,173.1 1014.0,172.3 1015.0,172.0 1016.0,171.4 1017.0,171.1 1018.0,168.2 1019.0,165.3 1020.0,162.3 1021.0,159.4 1022.0,157.5 1023.0,155.9 1024.0,153.9 1025.0,152.2 1026.0,150.6 1027.0,149.5 1028.0,148.8 1029.0,147.7 1030.0,147.2 1031.0,146.0 1032.0,145.1 1033.0,144.3 1034.0,143.6 1035.0,142.8 1036.0,141.7 1037.0,140.6 1038.0,139.5 1039.0,138.3 1040.0,137.8 1041.0,137.2 1042.0,136.8 1043.0,136.2 1044.0,135.5 1045.0,135.3 1046.0,135.0 1047.0,134.7 1048.0,133.7 1049.0,132.4 1050.0,132.1 1051.0,132.4 1052.0,132.8 1053.0,132.9 1054.0,132.8 1055.0,133.3 1056.0,133.3 1057.0,133.1 1058.0,132.3 1059.0,132.3 1060.0,131.7 1061.0,131.4 1062.0,130.2 1063.0,129.3 1064.0,128.5 1065.0,128.1 1066.0,128.1 1067.0,127.7 1068.0,127.2 1069.0,126.4 1070.0,126.3 1071.0,125.9 1072.0,126.4 1073.0,126.3 1074.0,127.0 1075.0,126.5 1076.0,126.7 1077.0,127.2 1078.0,128.6 1079.0,129.1 1080.0,129.2 1081.0,129.1 1082.0,129.7 1083.0,130.1 1084.0,130.3 1085.0,130.6 1086.0,131.3 1087.0,132.0 1088.0,132.9 1089.0,133.5 1090.0,134.0 1091.0,134.1 1092.0,134.6 1093.0,134.8 1094.0,135.7 1095.0,136.1 1096.0,137.3 1097.0,137.4 1098.0,138.3 1099.0,138.8 1100.0,139.7 1101.0,140.1 1102.0,140.6 1103.0,141.8 1104.0,143.7 1105.0,145.5 1106.0,146.8 1107.0,147.9 1108.0,149.1 1109.0,151.1 1110.0,153.7 1111.0,156.6 1112.0,159.0 1113.0,159.9 1114.0,160.6 1115.0,161.5 1116.0,161.5 1117.0,161.9 1118.0,162.5 1119.0,162.8 1120.0,161.9 1121.0,161.8 1122.0,161.7 1123.0,161.7 1124.0,161.1 1125.0,160.7 1126.0,160.4 1127.0,159.9 1128.0,160.0 1129.0,160.4 1130.0,160.6 1131.0,160.5 1132.0,160.5 1133.0,160.1 1134.0,160.4 1135.0,160.3 1136.0,161.1 1137.0,161.3 1138.0,161.7 1139.0,161.9 1140.0,162.2 1141.0,162.3 1142.0,162.5 1143.0,162.6 1144.0,163.1 1145.0,162.8 1146.0,163.2 1147.0,163.6 1148.0,164.3 1149.0,164.7 1150.0,165.5 1151.0,166.4 1152.0,166.9 1153.0,166.5 1154.0,167.2 1155.0,168.0 1156.0,169.4 1157.0,170.3 1158.0,170.8 1159.0,171.2 1160.0,171.1 1161.0,171.5 1162.0,172.0 1163.0,172.8 1164.0,173.3 1165.0,172.9 1166.0,172.4 1167.0,172.3 1168.0,172.0 1169.0,172.0 1170.0,171.8 1171.0,171.9 1172.0,171.4 1173.0,170.5 1174.0,169.7 1175.0,168.9 1176.0,167.8 1177.0,167.2 1178.0,166.6 1179.0,166.3 1180.0,165.4 1181.0,164.8 1182.0,164.0 1183.0,163.8 1184.0,163.3 1185.0,163.2 1186.0,162.9 1187.0,162.4 1188.0,161.4 1189.0,160.7 1190.0,161.1 1191.0,161.6 1192.0,161.9 1193.0,161.3 1194.0,161.7 1195.0,161.7 1196.0,161.9 1197.0,161.9 1198.0,162.9 1199.0,164.0 1200.0,164.9 1201.0,165.4 1202.0,165.7 1203.0,166.5 1204.0,167.2 1205.0,168.3 1206.0,168.8 1207.0,169.5 1208.0,170.1 1209.0,170.8 1210.0,172.1 1211.0,173.7 1212.0,175.2 1213.0,177.1 1214.0,178.2 1215.0,180.3 1216.0,182.0 1217.0,184.2 1218.0,188.0 1219.0,192.2 1220.0,194.4 1221.0,195.7 1222.0,196.7 1223.0,198.1 1224.0,199.0 1225.0,199.8 1226.0,200.4 1227.0,201.1 1228.0,202.3 1229.0,203.3 1230.0,204.3 1231.0,205.5 1232.0,207.1 1233.0,209.2 1234.0,210.5 1235.0,212.5 1236.0,214.0 1237.0,217.6 1238.0,222.1 1239.0,226.4 1240.0,231.3 1241.0,236.2 1242.0,241.7 1243.0,246.8 1244.0,252.5 1245.0,258.0 1246.0,263.4 1247.0,268.2 1248.0,273.0 1249.0,278.3 1250.0,284.5 1251.0,289.6 1252.0,294.6 1253.0,299.6 1254.0,304.5 1255.0,306.7 1256.0,308.0 1257.0,310.0 1258.0,311.6 1259.0,313.1 1260.0,314.3 1261.0,315.8 1262.0,317.9 1263.0,319.5 1264.0,320.7 1265.0,321.8 1266.0,323.4 1267.0,324.7 1268.0,326.0 1269.0,326.7 1270.0,327.6 1271.0,329.0 1272.0,330.3 1273.0,331.2 1274.0,332.1 1275.0,332.6 1276.0,333.6 1277.0,334.0 1278.0,334.7 1279.0,335.1 1280.0,336.1 1281.0,337.0 1282.0,337.4 1283.0,337.0 1284.0,336.6 1285.0,336.4 1286.0,336.5 1287.0,336.7 1288.0,336.5 1289.0,336.3 1290.0,336.5 1291.0,336.5 1292.0,336.7 1293.0,336.3 1294.0,336.3 1295.0,335.5 1296.0,335.4 1297.0,334.6 1298.0,334.5 1299.0,333.9 1300.0,333.5 1301.0,332.9 1302.0,332.9 1303.0,333.2 1304.0,333.6 1305.0,333.1 1306.0,332.0 1307.0,331.5 1308.0,331.0 1309.0,331.3 1310.0,330.8 1311.0,330.5 1312.0,330.1 1313.0,330.2 1314.0,330.1 1315.0,328.4 1316.0,324.0 1317.0,320.1 1318.0,316.3 1319.0,312.2 1320.0,307.2 1321.0,302.5 1322.0,297.7 1323.0,293.6 1324.0,290.4 1325.0,287.1 1326.0,283.9 1327.0,280.5 1328.0,278.1 1329.0,275.9 1330.0,273.6 1331.0,271.0 1332.0,267.6 1333.0,267.6 1334.0,268.2 1335.0,269.6 1336.0,270.4 1337.0,271.0 1338.0,271.4 1339.0,272.2 1340.0,273.5 1341.0,274.5 1342.0,275.5 1343.0,278.8 1344.0,282.3 1345.0,285.7 1346.0,289.0 1347.0,292.4 1348.0,296.8 1349.0,301.1 1350.0,305.5 1351.0,308.2 1352.0,311.5 1353.0,314.1 1354.0,317.3 1355.0,319.8 1356.0,323.0 1357.0,326.0 1358.0,329.7 1359.0,333.3 1360.0,336.1 1361.0,337.0 1362.0,337.7 1363.0,338.8 1364.0,340.2 1365.0,341.7 1366.0,342.5 1367.0,343.3 1368.0,343.4 1369.0,343.8 1370.0,344.4 1371.0,345.3 1372.0,345.6 1373.0,345.9 1374.0,346.2 1375.0,347.0 1376.0,346.9 1377.0,347.2 1378.0,347.5 1379.0,348.3 1380.0,348.8 1381.0,348.9 1382.0,348.9 1383.0,349.1 1384.0,349.4 1385.0,349.3 1386.0,349.3 1387.0,349.2 1388.0,349.7 1389.0,350.2 1390.0,350.1 1391.0,350.3 1392.0,349.8 1393.0,350.1 1394.0,349.9 1395.0,350.4 1396.0,350.5 1397.0,350.6 1398.0,350.7 1399.0,350.9 1400.0,350.7 1401.0,350.4 1402.0,350.2 1403.0,350.4 1404.0,350.7 1405.0,351.2 1406.0,350.9 1407.0,350.2 1408.0,349.4 1409.0,349.2 1409.5,349.2 1409.5,468.0 223.0,468.0"/><polygon fill="#ccf8b6" points="223.0,374.5 224.0,375.8 225.0,376.5 226.0,378.3 227.0,379.5 228.0,380.3 229.0,381.3 230.0,382.1 231.0,383.8 232.0,384.9 233.0,386.1 234.0,387.0 235.0,387.9 236.0,388.9 237.0,390.2 238.0,391.4 239.0,393.1 240.0,394.3 241.0,395.7 242.0,397.0 243.0,397.9 244.0,398.8 245.0,399.8 246.0,400.9 247.0,401.9 248.0,403.4 249.0,404.7 250.0,406.3 251.0,406.8 252.0,407.8 253.0,408.0 254.0,408.5 255.0,408.9 256.0,409.4 257.0,409.9 258.0,410.8 259.0,411.4 260.0,411.8 261.0,411.7 262.0,413.9 263.0,417.2 264.0,420.1 265.0,423.1 266.0,425.2 267.0,426.9 268.0,428.7 269.0,430.1 270.0,431.8 271.0,432.1 272.0,433.1 273.0,433.5 274.0,433.6 275.0,433.6 276.0,434.0 277.0,434.7 278.0,435.6 279.0,436.4 280.0,436.8 281.0,437.2 282.0,437.1 283.0,437.3 284.0,437.3 285.0,437.9 286.0,437.9 287.0,437.7 288.0,438.2 289.0,438.8 290.0,440.0 291.0,440.3 292.0,440.7 293.0,440.5 294.0,440.4 295.0,440.4 296.0,440.2 297.0,440.6 298.0,440.6 299.0,441.0 300.0,441.6 301.0,442.3 302.0,443.0 303.0,443.4 304.0,443.9 305.0,444.2 306.0,444.1 307.0,443.9 308.0,444.5 309.0,445.3 310.0,445.6 311.0,446.1 312.0,446.5 313.0,447.7 314.0,448.0 315.0,448.3 316.0,448.4 317.0,448.3 318.0,448.7 319.0,448.8 320.0,449.4 321.0,450.1 322.0,450.2 323.0,450.5 324.0,450.5 325.0,450.9 326.0,451.2 327.0,451.4 328.0,452.0 329.0,451.9 330.0,452.0 331.0,451.6 332.0,451.1 333.0,450.7 334.0,450.8 335.0,450.8 336.0,451.0 337.0,450.8 338.0,451.0 339.0,450.1 340.0,449.0 341.0,448.2 342.0,438.8 343.0,438.2 344.0,438.2 345.0,437.2 346.0,436.9 347.0,435.3 348.0,435.1 349.0,433.3 350.0,432.0 351.0,431.0 352.0,430.6 353.0,431.0 354.0,429.9 355.0,429.6 356.0,428.8 357.0,428.6 358.0,427.2 359.0,425.6 360.0,424.2 361.0,423.3 362.0,422.5 363.0,421.8 364.0,421.4 365.0,420.3 366.0,419.6 367.0,418.5 368.0,418.5 369.0,417.6 370.0,416.9 371.0,416.1 372.0,414.7 373.0,413.7 374.0,412.8 375.0,412.1 376.0,411.7 377.0,411.1 378.0,409.7 379.0,408.0 380.0,405.1 381.0,403.9 382.0,402.3 383.0,400.7 384.0,398.9 385.0,396.7 386.0,394.5 387.0,390.9 388.0,388.0 389.0,384.9 390.0,382.3 391.0,379.3 392.0,370.9 393.0,362.5 394.0,354.1 395.0,345.5 396.0,336.9 397.0,328.0 398.0,319.1 399.0,310.2 400.0,301.7 401.0,294.8 402.0,288.2 403.0,281.2 404.0,276.9 405.0,272.2 406.0,267.8 407.0,264.2 408.0,260.8 409.0,256.9 410.0,252.6 411.0,249.4 412.0,246.1 413.0,242.1 414.0,237.7 415.0,233.8 416.0,231.2 417.0,228.1 418.0,225.7 419.0,222.1 420.0,218.5 421.0,215.3 422.0,212.7 423.0,210.4 424.0,207.2 425.0,203.8 426.0,200.6 427.0,197.7 428.0,194.1 429.0,190.8 430.0,186.8 431.0,187.0 432.0,186.4 433.0,186.0 434.0,185.0 435.0,185.0 436.0,185.0 437.0,184.4 438.0,184.0 439.0,183.3 440.0,182.3 441.0,181.4 442.0,179.8 443.0,179.4 444.0,178.0 445.0,177.4 446.0,176.1 447.0,174.4 448.0,173.0 449.0,172.6 450.0,172.4 451.0,171.7 452.0,170.7 453.0,169.2 454.0,167.5 455.0,166.0 456.0,164.8 457.0,164.0 458.0,162.7 459.0,162.0 460.0,161.0 461.0,159.0 462.0,158.7 463.0,161.5 464.0,164.8 465.0,168.2 466.0,168.7 467.0,168.4 468.0,168.0 469.0,167.1 470.0,166.9 471.0,166.8 472.0,166.0 473.0,166.2 474.0,166.0 475.0,165.6 476.0,165.1 477.0,164.6 478.0,164.2 479.0,163.8 480.0,162.5 481.0,161.5 482.0,160.9 483.0,160.9 484.0,160.1 485.0,159.3 486.0,158.7 487.0,158.0 488.0,157.2 489.0,156.4 490.0,155.2 491.0,153.9 492.0,152.5 493.0,152.4 494.0,152.7 495.0,152.2 496.0,151.3 497.0,150.6 498.0,149.6 499.0,149.3 500.0,148.7 501.0,148.0 502.0,147.3 503.0,147.0 504.0,146.8 505.0,146.5 506.0,146.4 507.0,145.4 508.0,144.2 509.0,143.4 510.0,143.0 511.0,143.6 512.0,144.6 513.0,144.6 514.0,145.3 515.0,145.7 516.0,146.3 517.0,146.5 518.0,146.8 519.0,148.2 520.0,148.7 521.0,149.4 522.0,151.3 523.0,151.7 524.0,152.8 525.0,152.3 526.0,153.3 527.0,154.0 528.0,155.9 529.0,158.8 530.0,161.7 531.0,165.8 532.0,168.3 533.0,170.2 534.0,171.9 535.0,172.9 536.0,174.3 537.0,175.0 538.0,177.1 539.0,177.0 540.0,175.7 541.0,174.3 542.0,174.6 543.0,178.3 544.0,182.1 545.0,184.2 546.0,186.6 547.0,191.2 548.0,195.2 549.0,199.2 550.0,203.6 551.0,208.0 552.0,211.3 553.0,213.9 554.0,216.8 555.0,220.5 556.0,223.9 557.0,227.3 558.0,230.3 559.0,233.4 560.0,234.8 561.0,235.8 562.0,237.3 563.0,239.0 564.0,240.6 565.0,242.1 566.0,243.3 567.0,244.5 568.0,245.4 569.0,246.4 570.0,247.6 571.0,248.9 572.0,250.6 573.0,251.2 574.0,251.5 575.0,251.7 576.0,252.0 577.0,253.1 578.0,253.1 579.0,253.7 580.0,254.2 581.0,255.7 582.0,256.8 583.0,257.7 584.0,257.8 585.0,258.4 586.0,259.7 587.0,261.0 588.0,261.4 589.0,261.7 590.0,261.8 591.0,262.1 592.0,262.8 593.0,263.7 594.0,264.5 595.0,264.7 596.0,265.3 597.0,266.1 598.0,266.6 599.0,267.0 600.0,267.5 601.0,268.0 602.0,268.2 603.0,268.9 604.0,269.4 605.0,269.7 606.0,270.4 607.0,271.2 608.0,272.1 609.0,272.1 610.0,272.4 611.0,272.4 612.0,272.9 613.0,273.4 614.0,274.1 615.0,274.7 616.0,274.9 617.0,275.5 618.0,275.5 619.0,276.1 620.0,276.4 621.0,276.9 622.0,277.3 623.0,277.9 624.0,278.5 625.0,279.3 626.0,279.6 627.0,280.4 628.0,280.8 629.0,281.2 630.0,281.7 631.0,281.6 632.0,282.3 633.0,282.3 634.0,283.2 635.0,283.1 636.0,283.3 637.0,283.3 638.0,284.0 639.0,284.7 640.0,285.3 641.0,285.6 642.0,285.9 643.0,285.9 644.0,286.3 645.0,287.0 646.0,287.9 647.0,288.3 648.0,288.8 649.0,288.7 650.0,289.4 651.0,289.3 652.0,290.0 653.0,290.0 654.0,290.4 655.0,290.7 656.0,291.6 657.0,292.1 658.0,292.5 659.0,292.5 660.0,292.9 661.0,293.1 662.0,293.4 663.0,293.3 664.0,293.4 665.0,293.6 666.0,294.0 667.0,294.3 668.0,294.2 669.0,294.7 670.0,294.7 671.0,295.1 672.0,295.3 673.0,295.9 674.0,296.1 675.0,296.0 676.0,296.2 677.0,295.9 678.0,296.6 679.0,296.8 680.0,297.5 681.0,297.7 682.0,297.7 683.0,298.2 684.0,297.7 685.0,297.7 686.0,297.8 687.0,298.4 688.0,298.7 689.0,298.9 690.0,298.5 691.0,298.8 692.0,298.9 693.0,299.8 694.0,299.9 695.0,300.3 696.0,300.6 697.0,301.4 698.0,301.5 699.0,302.2 700.0,302.0 701.0,302.3 702.0,301.9 703.0,302.4 704.0,302.6 705.0,303.4 706.0,303.6 707.0,304.1 708.0,304.0 709.0,304.4 710.0,304.8 711.0,305.4 712.0,305.6 713.0,305.8 714.0,306.0 715.0,306.0 716.0,306.6 717.0,306.8 718.0,307.1 719.0,307.0 720.0,307.2 721.0,307.4 722.0,308.2 723.0,308.8 724.0,309.3 725.0,309.2 726.0,309.7 727.0,310.4 728.0,310.4 729.0,309.9 730.0,309.7 731.0,310.5 732.0,311.4 733.0,311.8 734.0,311.9 735.0,312.1 736.0,312.9 737.0,313.4 738.0,314.2 739.0,315.6 740.0,316.3 741.0,317.2 742.0,317.9 743.0,319.3 744.0,320.0 745.0,321.0 746.0,321.7 747.0,322.4 748.0,324.0 749.0,325.1 750.0,327.2 751.0,328.2 752.0,329.8 753.0,331.5 754.0,334.5 755.0,337.4 756.0,339.8 757.0,342.3 758.0,344.8 759.0,347.1 760.0,349.8 761.0,353.0 762.0,356.4 763.0,359.2 764.0,362.3 765.0,365.2 766.0,368.4 767.0,371.4 768.0,374.1 769.0,376.0 770.0,378.2 771.0,380.0 772.0,382.5 773.0,384.8 774.0,386.8 775.0,388.9 776.0,389.7 777.0,390.7 778.0,391.8 779.0,392.6 780.0,393.7 781.0,394.1 782.0,394.9 783.0,395.5 784.0,396.6 785.0,397.5 786.0,398.5 787.0,399.5 788.0,400.7 789.0,401.8 790.0,402.4 791.0,403.3 792.0,404.1 793.0,405.2 794.0,406.5 795.0,407.6 796.0,409.2 797.0,410.1 798.0,411.2 799.0,412.3 800.0,413.1 801.0,413.9 802.0,414.4 803.0,415.2 804.0,416.5 805.0,417.6 806.0,418.5 807.0,418.8 808.0,418.9 809.0,419.4 810.0,420.2 811.0,420.6 812.0,420.9 813.0,421.4 814.0,422.0 815.0,422.7 816.0,423.1 817.0,423.3 818.0,423.7 819.0,424.3 820.0,424.7 821.0,424.5 822.0,424.2 823.0,424.2 824.0,424.6 825.0,424.2 826.0,424.0 827.0,423.7 828.0,423.8 829.0,423.6 830.0,422.7 831.0,422.7 832.0,422.7 833.0,423.1 834.0,422.6 835.0,422.0 836.0,421.0 837.0,420.5 838.0,419.6 839.0,418.9 840.0,417.6 841.0,416.8 842.0,415.1 843.0,414.6 844.0,414.0 845.0,413.8 846.0,413.6 847.0,412.2 848.0,409.1 849.0,405.4 850.0,402.5 851.0,399.5 852.0,396.3 853.0,392.9 854.0,390.1 855.0,387.1 856.0,384.2 857.0,380.1 858.0,376.8 859.0,373.4 860.0,370.6 861.0,367.5 862.0,364.3 863.0,361.4 864.0,358.7 865.0,356.1 866.0,352.8 867.0,349.1 868.0,346.1 869.0,343.7 870.0,341.7 871.0,339.3 872.0,336.4 873.0,334.1 874.0,331.2 875.0,326.4 876.0,320.9 877.0,315.6 878.0,310.8 879.0,304.9 880.0,301.6 881.0,298.5 882.0,295.9 883.0,293.1 884.0,290.4 885.0,288.6 886.0,286.6 887.0,284.1 888.0,282.0 889.0,279.6 890.0,277.6 891.0,275.2 892.0,274.5 893.0,273.4 894.0,273.2 895.0,273.0 896.0,273.2 897.0,273.0 898.0,272.5 899.0,271.8 900.0,271.3 901.0,271.4 902.0,271.4 903.0,270.9 904.0,270.3 905.0,270.2 906.0,269.9 907.0,270.2 908.0,270.3 909.0,270.1 910.0,269.9 911.0,269.6 912.0,269.7 913.0,269.7 914.0,269.7 915.0,269.5 916.0,269.1 917.0,268.7 918.0,268.3 919.0,267.9 920.0,267.9 921.0,267.7 922.0,267.8 923.0,266.8 924.0,266.1 925.0,264.7 926.0,264.4 927.0,263.7 928.0,263.9 929.0,263.8 930.0,263.5 931.0,261.6 932.0,260.0 933.0,259.0 934.0,257.4 935.0,255.6 936.0,253.7 937.0,253.1 938.0,252.6 939.0,252.1 940.0,251.1 941.0,250.8 942.0,250.2 943.0,250.0 944.0,249.4 945.0,249.1 946.0,249.1 947.0,248.7 948.0,249.0 949.0,248.5 950.0,248.5 951.0,248.2 952.0,248.6 953.0,248.9 954.0,248.9 955.0,249.2 956.0,249.2 957.0,249.6 958.0,249.1 959.0,248.6 960.0,248.1 961.0,247.6 962.0,247.0 963.0,246.6 964.0,245.7 965.0,244.9 966.0,244.1 967.0,243.4 968.0,242.2 969.0,240.3 970.0,238.6 971.0,236.9 972.0,235.2 973.0,232.9 974.0,230.9 975.0,229.0 976.0,228.0 977.0,226.1 978.0,224.0 979.0,222.1 980.0,220.5 981.0,218.5 982.0,216.2 983.0,214.1 984.0,212.2 985.0,210.5 986.0,209.0 987.0,207.5 988.0,205.9 989.0,203.7 990.0,202.6 991.0,201.2 992.0,200.2 993.0,198.6 994.0,197.2 995.0,195.5 996.0,193.9 997.0,192.7 998.0,191.6 999.0,190.8 1000.0,190.1 1001.0,189.5 1002.0,188.3 1003.0,186.8 1004.0,185.6 1005.0,184.8 1006.0,183.4 1007.0,182.7 1008.0,181.8 1009.0,181.7 1010.0,181.2 1011.0,181.3 1012.0,181.2 1013.0,180.3 1014.0,179.3 1015.0,178.1 1016.0,177.9 1017.0,177.8 1018.0,176.1 1019.0,174.2 1020.0,171.9 1021.0,169.9 1022.0,168.1 1023.0,166.4 1024.0,164.3 1025.0,162.7 1026.0,161.9 1027.0,161.3 1028.0,160.0 1029.0,159.1 1030.0,158.2 1031.0,157.5 1032.0,156.1 1033.0,154.5 1034.0,153.5 1035.0,152.5 1036.0,151.6 1037.0,151.0 1038.0,151.2 1039.0,151.4 1040.0,151.2 1041.0,150.9 1042.0,150.2 1043.0,149.9 1044.0,149.4 1045.0,149.5 1046.0,149.3 1047.0,149.1 1048.0,149.1 1049.0,148.4 1050.0,148.0 1051.0,147.4 1052.0,147.3 1053.0,147.0 1054.0,147.2 1055.0,147.2 1056.0,147.4 1057.0,146.9 1058.0,146.5 1059.0,146.7 1060.0,147.0 1061.0,147.9 1062.0,147.5 1063.0,147.8 1064.0,147.2 1065.0,147.2 1066.0,147.1 1067.0,148.0 1068.0,148.9 1069.0,149.6 1070.0,149.5 1071.0,149.5 1072.0,149.7 1073.0,150.2 1074.0,150.8 1075.0,151.6 1076.0,152.3 1077.0,154.0 1078.0,155.5 1079.0,156.8 1080.0,158.5 1081.0,160.1 1082.0,161.9 1083.0,163.4 1084.0,166.0 1085.0,170.5 1086.0,174.6 1087.0,178.7 1088.0,182.8 1089.0,186.5 1090.0,189.9 1091.0,192.9 1092.0,196.1 1093.0,199.2 1094.0,203.1 1095.0,206.4 1096.0,210.4 1097.0,213.8 1098.0,217.7 1099.0,221.6 1100.0,225.3 1101.0,229.7 1102.0,233.2 1103.0,237.2 1104.0,240.7 1105.0,244.7 1106.0,248.6 1107.0,252.3 1108.0,255.9 1109.0,259.8 1110.0,263.6 1111.0,266.5 1112.0,268.4 1113.0,270.9 1114.0,272.6 1115.0,274.9 1116.0,277.1 1117.0,279.8 1118.0,282.5 1119.0,284.2 1120.0,285.4 1121.0,286.2 1122.0,287.3 1123.0,288.3 1124.0,289.3 1125.0,290.3 1126.0,291.1 1127.0,291.6 1128.0,291.7 1129.0,292.4 1130.0,292.9 1131.0,293.1 1132.0,292.9 1133.0,293.1 1134.0,293.8 1135.0,295.3 1136.0,295.9 1137.0,295.7 1138.0,295.6 1139.0,296.4 1140.0,297.3 1141.0,297.8 1142.0,297.8 1143.0,298.2 1144.0,298.9 1145.0,299.9 1146.0,301.0 1147.0,301.7 1148.0,302.9 1149.0,303.9 1150.0,304.5 1151.0,305.4 1152.0,306.1 1153.0,307.4 1154.0,308.0 1155.0,309.5 1156.0,310.7 1157.0,312.0 1158.0,313.1 1159.0,314.3 1160.0,315.4 1161.0,314.6 1162.0,314.5 1163.0,314.5 1164.0,314.8 1165.0,314.8 1166.0,314.6 1167.0,314.6 1168.0,314.6 1169.0,314.9 1170.0,314.7 1171.0,314.8 1172.0,314.8 1173.0,315.4 1174.0,315.0 1175.0,314.7 1176.0,314.5 1177.0,314.5 1178.0,314.5 1179.0,314.1 1180.0,314.1 1181.0,314.5 1182.0,314.9 1183.0,315.5 1184.0,316.1 1185.0,316.5 1186.0,316.9 1187.0,317.9 1188.0,319.0 1189.0,319.1 1190.0,319.0 1191.0,319.4 1192.0,320.5 1193.0,321.5 1194.0,322.1 1195.0,322.9 1196.0,323.4 1197.0,324.5 1198.0,325.0 1199.0,326.0 1200.0,326.9 1201.0,328.1 1202.0,328.9 1203.0,329.4 1204.0,329.7 1205.0,330.4 1206.0,331.1 1207.0,332.4 1208.0,333.2 1209.0,334.1 1210.0,334.6 1211.0,335.5 1212.0,336.0 1213.0,336.8 1214.0,337.4 1215.0,338.2 1216.0,338.6 1217.0,338.8 1218.0,339.6 1219.0,340.6 1220.0,341.7 1221.0,342.2 1222.0,342.8 1223.0,343.4 1224.0,344.3 1225.0,345.1 1226.0,346.2 1227.0,346.9 1228.0,347.0 1229.0,347.7 1230.0,348.3 1231.0,349.8 1232.0,350.8 1233.0,351.9 1234.0,352.5 1235.0,353.8 1236.0,354.4 1237.0,355.1 1238.0,355.5 1239.0,356.0 1240.0,357.6 1241.0,358.4 1242.0,359.9 1243.0,361.8 1244.0,363.9 1245.0,365.7 1246.0,367.6 1247.0,370.0 1248.0,372.5 1249.0,374.2 1250.0,375.2 1251.0,376.4 1252.0,377.8 1253.0,378.8 1254.0,379.7 1255.0,380.1 1256.0,380.2 1257.0,381.4 1258.0,382.0 1259.0,382.9 1260.0,382.9 1261.0,384.1 1262.0,384.8 1263.0,385.4 1264.0,385.7 1265.0,386.0 1266.0,386.3 1267.0,386.3 1268.0,386.9 1269.0,387.4 1270.0,388.0 1271.0,388.2 1272.0,388.3 1273.0,388.7 1274.0,389.4 1275.0,389.3 1276.0,389.3 1277.0,389.7 1278.0,390.2 1279.0,390.5 1280.0,390.2 1281.0,390.0 1282.0,389.7 1283.0,389.4 1284.0,389.4 1285.0,389.4 1286.0,389.2 1287.0,388.6 1288.0,388.4 1289.0,387.9 1290.0,387.8 1291.0,387.5 1292.0,387.6 1293.0,387.8 1294.0,387.8 1295.0,387.7 1296.0,387.1 1297.0,386.7 1298.0,386.0 1299.0,385.9 1300.0,385.4 1301.0,384.8 1302.0,383.6 1303.0,383.2 1304.0,382.6 1305.0,382.3 1306.0,381.5 1307.0,381.4 1308.0,380.5 1309.0,380.0 1310.0,379.2 1311.0,378.8 1312.0,377.5 1313.0,375.9 1314.0,374.2 1315.0,372.6 1316.0,370.7 1317.0,366.8 1318.0,358.6 1319.0,350.8 1320.0,342.6 1321.0,335.3 1322.0,329.2 1323.0,323.3 1324.0,317.1 1325.0,311.0 1326.0,304.8 1327.0,298.6 1328.0,292.2 1329.0,288.4 1330.0,285.7 1331.0,283.2 1332.0,279.8 1333.0,278.4 1334.0,277.0 1335.0,276.7 1336.0,276.2 1337.0,277.7 1338.0,278.7 1339.0,279.7 1340.0,280.8 1341.0,284.9 1342.0,288.7 1343.0,292.9 1344.0,296.6 1345.0,301.1 1346.0,305.0 1347.0,309.3 1348.0,313.8 1349.0,316.3 1350.0,319.0 1351.0,321.7 1352.0,324.5 1353.0,326.9 1354.0,330.8 1355.0,335.6 1356.0,340.1 1357.0,342.3 1358.0,344.0 1359.0,345.4 1360.0,347.1 1361.0,348.9 1362.0,350.6 1363.0,352.7 1364.0,354.2 1365.0,355.1 1366.0,356.2 1367.0,356.3 1368.0,357.4 1369.0,357.7 1370.0,359.5 1371.0,360.1 1372.0,360.7 1373.0,361.3 1374.0,361.8 1375.0,362.9 1376.0,362.9 1377.0,363.9 1378.0,364.2 1379.0,364.9 1380.0,365.0 1381.0,365.1 1382.0,364.8 1383.0,365.6 1384.0,366.3 1385.0,366.9 1386.0,366.8 1387.0,367.3 1388.0,367.6 1389.0,368.6 1390.0,368.7 1391.0,369.3 1392.0,369.2 1393.0,369.4 1394.0,369.4 1395.0,369.4 1396.0,369.6 1397.0,370.2 1398.0,369.9 1399.0,369.6 1400.0,369.6 1401.0,369.8 1402.0,369.7 1403.0,369.6 1404.0,369.9 1405.0,370.4 1406.0,370.9 1407.0,370.7 1408.0,371.0 1409.0,370.4 1409.5,370.4 1409.5,468.0 223.0,468.0"/><polygon fill="#faf6b9" points="223.0,412.4 224.0,413.3 225.0,413.8 226.0,414.3 227.0,415.2 228.0,415.7 229.0,416.5 230.0,416.8 231.0,417.7 232.0,418.3 233.0,419.5 234.0,419.7 235.0,420.1 236.0,420.2 237.0,420.7 238.0,421.2 239.0,421.7 240.0,422.4 241.0,423.0 242.0,423.5 243.0,423.6 244.0,424.2 245.0,424.4 246.0,425.4 247.0,425.8 248.0,426.8 249.0,426.5 250.0,426.9 251.0,427.1 252.0,428.0 253.0,428.5 254.0,428.6 255.0,429.0 256.0,428.8 257.0,429.9 258.0,430.1 259.0,430.5 260.0,431.4 261.0,433.2 262.0,435.0 263.0,436.4 264.0,438.3 265.0,440.0 266.0,441.7 267.0,443.3 268.0,443.8 269.0,444.4 270.0,444.4 271.0,445.2 272.0,445.7 273.0,445.4 274.0,445.4 275.0,445.8 276.0,446.6 277.0,447.5 278.0,447.6 279.0,447.9 280.0,448.0 281.0,448.7 282.0,449.2 283.0,449.6 284.0,449.3 285.0,449.6 286.0,449.9 287.0,450.4 288.0,450.7 289.0,450.7 290.0,451.3 291.0,451.0 292.0,450.5 293.0,450.2 294.0,450.5 295.0,450.7 296.0,451.0 297.0,450.9 298.0,451.0 299.0,450.7 300.0,451.1 301.0,452.1 302.0,451.7 303.0,451.3 304.0,450.7 305.0,451.0 306.0,451.4 307.0,451.3 308.0,451.1 309.0,451.1 310.0,451.5 311.0,452.1 312.0,452.2 313.0,452.2 314.0,452.2 315.0,452.3 316.0,452.2 317.0,452.2 318.0,453.2 319.0,453.4 320.0,453.3 321.0,452.7 322.0,452.6 323.0,453.2 324.0,452.8 325.0,452.8 326.0,452.8 327.0,453.5 328.0,453.9 329.0,454.0 330.0,453.7 331.0,453.7 332.0,452.9 333.0,452.5 334.0,452.1 335.0,451.8 336.0,451.7 337.0,451.8 338.0,451.5 339.0,450.7 340.0,450.3 341.0,449.7 342.0,446.2 343.0,443.8 344.0,441.6 345.0,439.0 346.0,437.4 347.0,435.8 348.0,435.6 349.0,433.8 350.0,433.4 351.0,432.9 352.0,432.9 353.0,432.6 354.0,432.0 355.0,431.6 356.0,431.2 357.0,430.2 358.0,429.0 359.0,427.4 360.0,426.2 361.0,425.3 362.0,424.4 363.0,423.2 364.0,422.0 365.0,421.8 366.0,421.3 367.0,420.3 368.0,419.9 369.0,419.4 370.0,419.2 371.0,417.8 372.0,415.8 373.0,414.4 374.0,414.1 375.0,413.7 376.0,413.3 377.0,412.2 378.0,410.2 379.0,408.5 380.0,406.3 381.0,405.6 382.0,403.7 383.0,401.8 384.0,400.0 385.0,398.4 386.0,396.4 387.0,393.0 388.0,389.9 389.0,386.0 390.0,383.0 391.0,379.8 392.0,371.9 393.0,363.8 394.0,355.9 395.0,347.5 396.0,338.8 397.0,330.3 398.0,321.2 399.0,311.8 400.0,302.9 401.0,295.8 402.0,289.5 403.0,282.2 404.0,277.5 405.0,273.1 406.0,269.3 407.0,265.9 408.0,262.5 409.0,258.4 410.0,253.6 411.0,249.9 412.0,246.6 413.0,244.6 414.0,243.8 415.0,242.8 416.0,242.1 417.0,240.9 418.0,238.6 419.0,235.3 420.0,232.8 421.0,230.3 422.0,228.0 423.0,225.3 424.0,223.6 425.0,223.1 426.0,222.4 427.0,222.0 428.0,221.6 429.0,221.7 430.0,220.9 431.0,220.5 432.0,219.6 433.0,219.0 434.0,218.6 435.0,219.0 436.0,219.5 437.0,219.7 438.0,219.4 439.0,219.4 440.0,219.4 441.0,219.6 442.0,219.6 443.0,220.1 444.0,219.9 445.0,219.9 446.0,219.3 447.0,220.1 448.0,220.9 449.0,222.0 450.0,222.2 451.0,222.4 452.0,222.8 453.0,223.4 454.0,224.0 455.0,224.3 456.0,224.9 457.0,225.6 458.0,227.1 459.0,228.2 460.0,229.7 461.0,230.7 462.0,232.6 463.0,234.0 464.0,238.4 465.0,243.6 466.0,248.4 467.0,252.9 468.0,257.1 469.0,262.3 470.0,267.0 471.0,271.3 472.0,275.3 473.0,279.3 474.0,283.6 475.0,288.1 476.0,292.6 477.0,296.5 478.0,300.1 479.0,303.8 480.0,307.9 481.0,312.0 482.0,316.3 483.0,320.1 484.0,324.4 485.0,328.4 486.0,331.7 487.0,334.7 488.0,337.7 489.0,340.2 490.0,342.7 491.0,345.5 492.0,348.2 493.0,351.2 494.0,352.3 495.0,354.1 496.0,355.6 497.0,357.2 498.0,357.8 499.0,359.0 500.0,360.6 501.0,362.7 502.0,364.4 503.0,365.7 504.0,366.5 505.0,367.1 506.0,368.0 507.0,368.8 508.0,369.7 509.0,370.8 510.0,371.8 511.0,372.7 512.0,374.1 513.0,375.4 514.0,377.0 515.0,378.0 516.0,379.2 517.0,380.3 518.0,381.1 519.0,381.9 520.0,382.7 521.0,383.5 522.0,384.4 523.0,385.1 524.0,385.6 525.0,386.5 526.0,387.1 527.0,387.7 528.0,388.4 529.0,388.8 530.0,389.6 531.0,390.4 532.0,391.5 533.0,393.1 534.0,393.9 535.0,395.0 536.0,395.9 537.0,396.5 538.0,396.0 539.0,395.3 540.0,395.1 541.0,394.6 542.0,394.1 543.0,393.1 544.0,394.3 545.0,395.6 546.0,397.3 547.0,397.5 548.0,398.6 549.0,399.8 550.0,401.1 551.0,402.2 552.0,403.2 553.0,404.5 554.0,405.5 555.0,406.1 556.0,407.1 557.0,407.8 558.0,408.5 559.0,409.2 560.0,410.1 561.0,410.5 562.0,410.3 563.0,410.3 564.0,411.3 565.0,412.2 566.0,412.9 567.0,413.1 568.0,414.2 569.0,415.0 570.0,415.6 571.0,415.2 572.0,415.1 573.0,416.0 574.0,416.3 575.0,416.8 576.0,416.2 577.0,416.6 578.0,416.4 579.0,416.2 580.0,415.9 581.0,416.4 582.0,417.6 583.0,417.8 584.0,417.7 585.0,417.2 586.0,417.2 587.0,417.4 588.0,417.6 589.0,418.0 590.0,418.2 591.0,418.6 592.0,418.6 593.0,419.0 594.0,418.5 595.0,418.4 596.0,418.2 597.0,418.3 598.0,417.8 599.0,417.7 600.0,417.2 601.0,417.2 602.0,417.0 603.0,417.3 604.0,417.0 605.0,416.3 606.0,415.8 607.0,416.0 608.0,416.0 609.0,416.4 610.0,415.4 611.0,416.2 612.0,416.2 613.0,417.3 614.0,417.1 615.0,417.4 616.0,415.7 617.0,414.4 618.0,412.2 619.0,410.0 620.0,408.2 621.0,406.5 622.0,404.7 623.0,402.4 624.0,400.3 625.0,397.8 626.0,396.0 627.0,393.8 628.0,391.5 629.0,389.3 630.0,387.4 631.0,385.6 632.0,383.5 633.0,382.0 634.0,381.0 635.0,379.9 636.0,378.8 637.0,377.8 638.0,376.9 639.0,375.8 640.0,374.6 641.0,373.9 642.0,373.5 643.0,372.6 644.0,371.4 645.0,370.8 646.0,370.3 647.0,370.3 648.0,370.2 649.0,369.5 650.0,369.1 651.0,368.6 652.0,368.2 653.0,367.3 654.0,366.4 655.0,365.8 656.0,365.4 657.0,364.3 658.0,363.5 659.0,362.1 660.0,361.4 661.0,361.4 662.0,361.3 663.0,361.3 664.0,360.8 665.0,360.7 666.0,360.5 667.0,360.4 668.0,360.1 669.0,360.1 670.0,359.8 671.0,360.1 672.0,360.5 673.0,360.8 674.0,361.1 675.0,361.9 676.0,362.5 677.0,362.7 678.0,362.6 679.0,363.3 680.0,364.6 681.0,365.6 682.0,366.5 683.0,367.1 684.0,367.5 685.0,368.3 686.0,368.8 687.0,370.4 688.0,371.0 689.0,372.1 690.0,372.5 691.0,373.6 692.0,374.7 693.0,375.8 694.0,377.2 695.0,378.2 696.0,379.6 697.0,380.5 698.0,381.9 699.0,383.0 700.0,384.1 701.0,385.5 702.0,386.8 703.0,388.1 704.0,388.6 705.0,389.0 706.0,389.7 707.0,390.6 708.0,391.2 709.0,392.1 710.0,392.7 711.0,394.3 712.0,395.3 713.0,396.7 714.0,397.7 715.0,398.4 716.0,398.8 717.0,398.7 718.0,399.0 719.0,398.6 720.0,398.9 721.0,399.4 722.0,400.1 723.0,400.3 724.0,400.3 725.0,400.4 726.0,400.6 727.0,400.6 728.0,401.4 729.0,402.1 730.0,402.8 731.0,402.4 732.0,402.2 733.0,402.9 734.0,403.1 735.0,403.2 736.0,402.7 737.0,403.4 738.0,403.4 739.0,403.7 740.0,403.5 741.0,403.9 742.0,403.7 743.0,404.2 744.0,404.3 745.0,404.8 746.0,405.7 747.0,406.7 748.0,408.3 749.0,408.9 750.0,409.6 751.0,409.9 752.0,411.2 753.0,412.3 754.0,413.0 755.0,413.2 756.0,413.6 757.0,414.6 758.0,415.4 759.0,416.4 760.0,417.3 761.0,418.8 762.0,420.1 763.0,421.2 764.0,421.9 765.0,422.1 766.0,422.8 767.0,423.8 768.0,425.5 769.0,427.0 770.0,428.4 771.0,429.5 772.0,430.8 773.0,432.2 774.0,434.4 775.0,436.1 776.0,437.3 777.0,438.6 778.0,439.1 779.0,439.4 780.0,440.0 781.0,440.3 782.0,441.4 783.0,441.7 784.0,442.0 785.0,442.0 786.0,442.4 787.0,443.1 788.0,443.3 789.0,443.0 790.0,443.8 791.0,444.6 792.0,445.5 793.0,445.6 794.0,445.3 795.0,445.2 796.0,444.7 797.0,445.2 798.0,445.5 799.0,445.9 800.0,445.9 801.0,446.5 802.0,446.6 803.0,446.4 804.0,446.2 805.0,446.0 806.0,446.5 807.0,446.7 808.0,447.7 809.0,447.9 810.0,447.7 811.0,447.4 812.0,447.3 813.0,448.4 814.0,448.7 815.0,449.6 816.0,449.3 817.0,449.0 818.0,448.9 819.0,448.9 820.0,448.9 821.0,448.2 822.0,448.1 823.0,447.6 824.0,446.8 825.0,446.8 826.0,446.7 827.0,446.7 828.0,446.1 829.0,445.9 830.0,445.4 831.0,444.8 832.0,444.7 833.0,444.5 834.0,444.1 835.0,443.5 836.0,442.0 837.0,441.2 838.0,440.1 839.0,439.4 840.0,438.8 841.0,438.4 842.0,438.2 843.0,437.0 844.0,434.1 845.0,430.8 846.0,427.9 847.0,424.7 848.0,421.7 849.0,419.0 850.0,416.0 851.0,413.4 852.0,410.0 853.0,407.0 854.0,403.4 855.0,400.3 856.0,397.0 857.0,394.0 858.0,390.4 859.0,386.9 860.0,384.0 861.0,381.6 862.0,379.1 863.0,375.6 864.0,372.3 865.0,369.0 866.0,365.8 867.0,362.5 868.0,360.0 869.0,357.2 870.0,354.6 871.0,351.4 872.0,348.2 873.0,344.8 874.0,341.9 875.0,338.8 876.0,335.7 877.0,332.2 878.0,329.0 879.0,326.1 880.0,322.8 881.0,320.8 882.0,318.5 883.0,316.7 884.0,314.8 885.0,313.1 886.0,310.5 887.0,308.5 888.0,306.4 889.0,305.0 890.0,302.2 891.0,299.8 892.0,299.1 893.0,298.9 894.0,298.9 895.0,298.2 896.0,298.0 897.0,297.2 898.0,296.4 899.0,295.7 900.0,295.2 901.0,294.6 902.0,293.3 903.0,293.9 904.0,294.2 905.0,294.7 906.0,293.5 907.0,293.4 908.0,293.5 909.0,294.2 910.0,294.7 911.0,294.6 912.0,294.8 913.0,294.9 914.0,295.1 915.0,295.6 916.0,295.9 917.0,296.8 918.0,297.5 919.0,299.1 920.0,300.3 921.0,302.0 922.0,302.9 923.0,304.2 924.0,304.9 925.0,305.7 926.0,306.1 927.0,307.1 928.0,307.9 929.0,308.5 930.0,308.7 931.0,309.2 932.0,310.8 933.0,312.0 934.0,313.5 935.0,315.3 936.0,316.3 937.0,316.9 938.0,317.6 939.0,319.4 940.0,320.7 941.0,322.2 942.0,324.0 943.0,326.7 944.0,329.1 945.0,330.9 946.0,333.8 947.0,336.6 948.0,338.9 949.0,340.5 950.0,342.3 951.0,345.0 952.0,347.6 953.0,350.0 954.0,352.3 955.0,354.8 956.0,357.3 957.0,359.4 958.0,360.9 959.0,362.2 960.0,364.5 961.0,366.6 962.0,368.5 963.0,370.1 964.0,371.9 965.0,374.1 966.0,373.9 967.0,373.7 968.0,373.3 969.0,373.7 970.0,373.5 971.0,372.9 972.0,372.6 973.0,372.6 974.0,372.0 975.0,371.4 976.0,370.7 977.0,369.4 978.0,367.9 979.0,366.8 980.0,366.4 981.0,365.6 982.0,365.0 983.0,363.8 984.0,363.1 985.0,362.2 986.0,362.1 987.0,361.6 988.0,361.0 989.0,360.1 990.0,359.6 991.0,359.1 992.0,359.1 993.0,358.5 994.0,358.1 995.0,357.5 996.0,356.8 997.0,356.7 998.0,355.9 999.0,356.0 1000.0,355.3 1001.0,354.8 1002.0,353.8 1003.0,354.6 1004.0,356.2 1005.0,357.6 1006.0,359.3 1007.0,359.5 1008.0,359.6 1009.0,359.6 1010.0,359.5 1011.0,360.2 1012.0,359.0 1013.0,359.6 1014.0,359.3 1015.0,360.0 1016.0,359.6 1017.0,357.4 1018.0,355.7 1019.0,353.7 1020.0,352.1 1021.0,349.7 1022.0,347.3 1023.0,346.7 1024.0,346.4 1025.0,346.2 1026.0,345.4 1027.0,344.5 1028.0,344.1 1029.0,343.9 1030.0,343.4 1031.0,342.4 1032.0,342.2 1033.0,341.9 1034.0,342.3 1035.0,341.7 1036.0,342.5 1037.0,342.5 1038.0,342.2 1039.0,341.6 1040.0,341.8 1041.0,342.3 1042.0,342.5 1043.0,342.4 1044.0,342.6 1045.0,343.6 1046.0,344.7 1047.0,346.1 1048.0,347.6 1049.0,348.6 1050.0,355.8 1051.0,365.7 1052.0,369.6 1053.0,369.9 1054.0,371.2 1055.0,371.9 1056.0,371.9 1057.0,372.1 1058.0,372.5 1059.0,373.6 1060.0,374.1 1061.0,374.3 1062.0,374.8 1063.0,375.2 1064.0,375.7 1065.0,375.9 1066.0,376.3 1067.0,376.8 1068.0,377.3 1069.0,378.5 1070.0,379.3 1071.0,379.8 1072.0,379.7 1073.0,380.4 1074.0,380.7 1075.0,381.6 1076.0,382.3 1077.0,383.2 1078.0,383.9 1079.0,384.5 1080.0,385.3 1081.0,386.0 1082.0,386.8 1083.0,387.3 1084.0,388.1 1085.0,388.7 1086.0,389.7 1087.0,390.2 1088.0,391.3 1089.0,391.7 1090.0,392.4 1091.0,392.6 1092.0,393.4 1093.0,394.2 1094.0,395.3 1095.0,397.3 1096.0,399.2 1097.0,401.0 1098.0,402.6 1099.0,404.7 1100.0,407.0 1101.0,409.6 1102.0,411.6 1103.0,412.4 1104.0,412.9 1105.0,413.2 1106.0,413.7 1107.0,414.1 1108.0,414.0 1109.0,414.8 1110.0,415.8 1111.0,417.2 1112.0,417.7 1113.0,418.5 1114.0,419.4 1115.0,420.1 1116.0,420.5 1117.0,421.1 1118.0,421.6 1119.0,422.4 1120.0,422.2 1121.0,422.3 1122.0,421.7 1123.0,422.0 1124.0,422.7 1125.0,423.0 1126.0,423.3 1127.0,422.7 1128.0,423.2 1129.0,423.4 1130.0,423.3 1131.0,423.3 1132.0,423.8 1133.0,424.4 1134.0,424.7 1135.0,424.7 1136.0,424.8 1137.0,425.1 1138.0,425.3 1139.0,425.8 1140.0,425.8 1141.0,426.4 1142.0,427.0 1143.0,427.6 1144.0,428.3 1145.0,428.4 1146.0,428.3 1147.0,427.8 1148.0,427.7 1149.0,427.4 1150.0,427.8 1151.0,427.4 1152.0,427.3 1153.0,426.9 1154.0,426.7 1155.0,427.1 1156.0,427.1 1157.0,427.3 1158.0,427.4 1159.0,427.1 1160.0,427.1 1161.0,426.7 1162.0,427.2 1163.0,427.0 1164.0,426.4 1165.0,426.1 1166.0,426.0 1167.0,426.4 1168.0,426.4 1169.0,425.8 1170.0,425.3 1171.0,424.5 1172.0,423.7 1173.0,422.3 1174.0,421.3 1175.0,419.8 1176.0,418.7 1177.0,416.9 1178.0,416.6 1179.0,415.1 1180.0,414.5 1181.0,414.2 1182.0,413.7 1183.0,413.9 1184.0,413.0 1185.0,412.7 1186.0,411.6 1187.0,411.7 1188.0,411.5 1189.0,411.7 1190.0,411.9 1191.0,412.5 1192.0,413.0 1193.0,413.4 1194.0,413.6 1195.0,413.5 1196.0,413.4 1197.0,414.0 1198.0,414.5 1199.0,414.9 1200.0,414.5 1201.0,414.5 1202.0,414.7 1203.0,414.8 1204.0,414.5 1205.0,414.5 1206.0,414.0 1207.0,414.1 1208.0,414.2 1209.0,414.7 1210.0,415.0 1211.0,414.7 1212.0,414.7 1213.0,414.4 1214.0,414.2 1215.0,414.1 1216.0,414.4 1217.0,414.1 1218.0,413.9 1219.0,413.2 1220.0,413.5 1221.0,413.4 1222.0,413.9 1223.0,414.1 1224.0,414.8 1225.0,415.3 1226.0,415.2 1227.0,414.9 1228.0,414.8 1229.0,415.0 1230.0,415.2 1231.0,414.7 1232.0,415.2 1233.0,415.5 1234.0,415.9 1235.0,415.5 1236.0,415.3 1237.0,415.8 1238.0,416.2 1239.0,416.3 1240.0,416.2 1241.0,416.7 1242.0,417.5 1243.0,419.7 1244.0,421.8 1245.0,423.8 1246.0,425.8 1247.0,426.5 1248.0,427.1 1249.0,427.2 1250.0,427.2 1251.0,427.4 1252.0,428.2 1253.0,428.7 1254.0,429.0 1255.0,429.5 1256.0,430.4 1257.0,430.8 1258.0,430.9 1259.0,430.9 1260.0,431.1 1261.0,431.4 1262.0,430.8 1263.0,430.9 1264.0,430.9 1265.0,431.7 1266.0,432.1 1267.0,431.6 1268.0,430.9 1269.0,430.5 1270.0,431.2 1271.0,431.8 1272.0,432.3 1273.0,432.4 1274.0,432.0 1275.0,431.4 1276.0,430.8 1277.0,431.0 1278.0,430.5 1279.0,430.6 1280.0,430.2 1281.0,430.6 1282.0,430.2 1283.0,430.0 1284.0,429.3 1285.0,429.5 1286.0,429.1 1287.0,429.1 1288.0,428.4 1289.0,428.1 1290.0,427.9 1291.0,427.7 1292.0,428.0 1293.0,427.7 1294.0,427.7 1295.0,427.3 1296.0,427.0 1297.0,426.2 1298.0,425.8 1299.0,425.5 1300.0,425.6 1301.0,425.2 1302.0,425.4 1303.0,425.3 1304.0,424.9 1305.0,424.8 1306.0,424.7 1307.0,425.1 1308.0,424.4 1309.0,423.8 1310.0,422.3 1311.0,421.7 1312.0,420.8 1313.0,419.8 1314.0,419.2 1315.0,417.1 1316.0,413.7 1317.0,409.8 1318.0,406.1 1319.0,401.1 1320.0,393.8 1321.0,387.5 1322.0,382.0 1323.0,378.6 1324.0,374.5 1325.0,372.0 1326.0,369.2 1327.0,366.7 1328.0,364.6 1329.0,362.4 1330.0,359.6 1331.0,356.4 1332.0,353.5 1333.0,353.2 1334.0,353.6 1335.0,354.1 1336.0,354.1 1337.0,354.2 1338.0,353.7 1339.0,353.3 1340.0,352.7 1341.0,352.8 1342.0,353.0 1343.0,355.7 1344.0,357.9 1345.0,360.5 1346.0,363.1 1347.0,365.4 1348.0,366.7 1349.0,368.5 1350.0,370.4 1351.0,373.3 1352.0,375.2 1353.0,377.2 1354.0,378.6 1355.0,380.4 1356.0,382.2 1357.0,384.0 1358.0,386.2 1359.0,388.9 1360.0,392.1 1361.0,394.9 1362.0,396.9 1363.0,396.8 1364.0,397.3 1365.0,397.9 1366.0,399.0 1367.0,399.3 1368.0,399.4 1369.0,399.8 1370.0,400.5 1371.0,400.9 1372.0,401.0 1373.0,401.1 1374.0,401.5 1375.0,401.4 1376.0,401.2 1377.0,401.4 1378.0,401.6 1379.0,402.2 1380.0,402.0 1381.0,402.1 1382.0,402.4 1383.0,402.7 1384.0,402.7 1385.0,402.4 1386.0,402.4 1387.0,402.8 1388.0,403.0 1389.0,402.9 1390.0,403.0 1391.0,403.2 1392.0,404.8 1393.0,406.1 1394.0,406.9 1395.0,407.4 1396.0,408.9 1397.0,410.0 1398.0,411.4 1399.0,412.0 1400.0,413.4 1401.0,414.5 1402.0,415.3 1403.0,416.2 1404.0,417.8 1405.0,418.6 1406.0,417.0 1407.0,415.2 1408.0,412.6 1409.0,411.8 1409.5,411.8 1409.5,468.0 223.0,468.0"/></g>
<text transform="translate(816.2 276.6) scale(0.665 1)" font-size="26.4" text-anchor="middle" fill="#cdcdcd" stroke="#cdcdcd" stroke-width="0.5">WTR</text>
<polyline points="222.1,469.0 223.2,465.3 224.1,461.0 225.2,456.9 226.6,454.2 227.5,450.3 228.5,446.3 229.7,445.2 230.5,441.4 231.8,438.2 232.8,435.2 233.8,428.5 234.7,423.4 235.9,419.4 237.1,416.4 238.1,414.7 239.0,412.8 239.9,410.3 240.9,401.3 242.2,401.8 243.2,394.7 244.4,393.4 245.6,397.7 247.0,405.8 247.8,406.0 248.8,402.2 249.8,403.9 250.6,404.7 251.5,407.6 252.7,406.9 253.8,403.5 255.0,404.9 255.9,413.5 257.3,418.5 258.7,421.7 259.5,428.9 260.2,416.1 261.3,400.5 262.7,399.7 263.9,398.7 264.9,397.1 265.8,396.2 266.6,395.1 267.4,391.6 268.4,382.7 269.5,376.3 270.6,369.3 271.9,362.2 273.1,361.1 274.5,363.9 275.5,362.2 276.3,356.4 277.0,356.9 278.2,352.4 279.3,354.4 280.5,360.6 281.4,360.5 282.6,364.0 283.5,384.5 284.6,379.1 285.3,374.6 286.2,370.3 287.1,368.2 288.0,364.0 289.0,363.0 290.3,362.8 291.5,362.2 292.8,356.7 294.0,346.8 295.1,339.1 296.3,338.1 297.3,338.4 298.3,335.6 299.0,334.5 300.4,337.3 301.4,332.0 303.0,328.3 303.7,321.7 304.9,318.6 306.3,327.4 307.5,335.5 308.4,323.6 309.3,312.4 310.3,312.5 311.1,308.0 312.0,308.8 313.1,300.9 314.6,292.8 315.5,278.5 316.6,263.3 318.1,248.6 319.5,251.5 320.5,246.3 321.4,237.4 322.3,245.6 323.4,253.5 324.1,258.2 325.4,263.3 326.3,257.4 327.3,271.1 328.4,258.2 329.3,249.6 330.4,250.1 331.3,255.4 332.2,263.3 333.3,266.9 333.9,273.9 335.1,278.9 336.2,283.8 336.9,283.9 337.8,285.0 338.6,286.0 339.6,287.5 340.8,307.3 342.2,323.0 343.0,317.6 343.8,311.1 344.9,307.0 345.8,301.7 346.7,293.4 347.6,283.9 348.9,287.0 350.2,292.8 351.1,288.2 352.0,285.0 352.9,282.1 353.7,284.8 354.6,295.9 355.6,298.1 357.0,302.3 358.2,310.6 358.9,309.7 360.0,303.5 361.0,308.0 362.4,309.9 363.4,318.1 364.5,323.0 365.9,322.9 367.1,325.7 368.2,320.0 369.2,314.2 370.4,314.2 371.6,307.0 372.8,304.3 373.9,299.6 375.1,297.2 376.0,297.5 376.9,295.2 377.8,294.6 379.1,300.4 380.1,302.4 381.4,305.2 382.8,303.5 384.0,307.0 385.2,312.4 386.5,315.2 387.6,317.7 388.9,318.7 390.2,315.6 391.2,315.9 392.5,317.4 393.7,324.6 394.7,327.5 396.0,332.5 396.6,328.1 397.7,333.3 399.1,333.1 400.0,334.5 400.7,329.8 402.0,331.8 402.9,329.3 403.7,326.5 404.9,326.6 405.7,327.3 406.9,325.5 407.8,329.6 408.8,324.1 409.7,317.0 410.6,311.6 411.7,308.1 412.6,311.7 413.8,315.2 414.7,317.8 415.5,325.1 416.6,326.3 417.4,328.0 418.6,331.5 419.7,329.5 420.6,329.0 421.7,327.5 422.2,326.8 423.5,325.7 424.2,322.9 425.4,316.6 426.4,323.8 427.4,319.8 428.2,321.2 429.4,329.1 430.3,330.6 431.3,330.1 432.4,329.5 433.3,329.9 434.3,326.3 435.4,326.4 436.2,324.8 437.2,326.6 438.1,326.9 439.6,330.4 440.7,326.6 441.3,328.5 442.8,328.5 443.7,328.5 445.0,328.6 446.1,328.1 447.3,330.9 448.6,328.6 449.4,327.5 450.8,325.1 451.8,330.4 452.8,328.6 453.8,330.4 454.8,330.0 455.8,329.7 456.8,330.6 457.8,341.8 458.7,347.2 459.6,354.9 460.7,362.9 461.9,364.9 462.6,370.3 463.6,372.6 464.4,373.6 465.5,376.0 466.6,379.0 467.3,381.5 468.3,385.3 469.4,378.2 470.5,372.0 471.4,367.3 472.5,367.0 473.3,367.0 474.3,367.9 475.1,374.6 476.0,374.0 477.2,371.9 478.3,372.0 479.1,374.3 480.4,377.5 481.0,379.0 482.1,377.5 483.3,377.0 484.4,376.5 485.3,377.6 486.5,381.5 487.5,383.5 489.1,382.8 490.0,380.3 491.1,378.7 492.0,379.8 493.0,374.0 493.8,372.1 495.2,372.5 495.9,371.7 496.7,372.5 497.8,368.1 498.8,369.3 499.8,367.7 500.8,368.9 501.7,368.6 502.7,370.3 503.7,370.7 505.1,371.1 505.9,370.7 507.1,365.8 507.9,364.8 509.4,369.5 510.1,367.1 511.5,366.8 512.4,360.2 513.8,356.2 514.5,349.1 515.3,348.2 516.4,344.3 517.4,345.2 518.2,345.9 519.2,347.4 520.4,348.2 521.5,348.8 522.3,347.3 523.3,344.8 524.3,342.3 525.2,340.3 526.0,337.2 527.2,338.4 528.1,332.4 529.3,323.8 530.1,315.9 531.0,310.6 532.2,312.3 533.1,310.0 534.2,307.3 534.9,306.5 536.0,304.1 537.1,304.8 537.7,309.9 539.0,314.0 539.9,313.9 540.8,313.5 541.7,307.5 542.8,309.9 543.8,302.2 544.7,299.3 545.5,290.8 546.8,284.6 548.1,271.8 549.0,278.4 549.7,286.5 550.9,278.8 551.7,275.8 552.5,275.9 553.6,274.8 554.5,280.7 555.5,288.4 556.6,295.3 557.5,290.3 558.5,288.5 559.3,289.5 560.6,294.3 561.4,297.3 562.4,289.7 563.3,286.8 564.3,285.0 565.4,278.7 566.3,284.5 567.3,285.3 568.4,286.0 569.3,290.4 570.4,290.6 571.1,291.3 572.2,291.7 573.2,292.4 574.0,293.2 574.9,290.4 576.0,290.7 577.1,288.5 578.1,285.6 578.8,291.6 579.9,287.9 581.1,288.3 581.9,289.4 583.0,291.4 583.9,298.4 584.8,304.0 585.9,309.0 586.6,306.1 587.8,311.4 588.8,307.7 589.8,307.0 590.8,306.1 591.6,310.9 592.6,305.5 593.9,307.1 594.6,312.4 595.7,312.0 596.7,316.9 597.6,305.0 598.6,298.3 599.2,301.2 600.4,299.8 601.4,301.0 602.5,299.2 603.3,300.4 604.7,300.8 605.4,305.9 606.5,306.1 607.2,309.0 608.4,314.5 609.4,319.8 610.4,318.9 611.3,316.2 612.5,317.6 613.3,316.9 614.3,321.2 615.3,317.0 616.1,318.1 617.1,319.9 618.2,320.8 619.2,326.6 620.1,323.4 621.1,317.8 622.1,318.5 622.9,316.8 624.0,317.9 625.0,319.0 626.0,318.8 627.0,313.3 627.9,310.4 628.6,309.5 629.9,307.1 630.9,306.5 631.8,305.3 632.8,304.1 633.9,304.1 634.8,301.9 635.7,300.9 636.8,299.4 637.8,297.3 638.7,295.7 639.5,295.6 640.8,294.0 641.8,292.3 642.7,290.4 643.6,290.4 644.7,294.1 645.4,294.5 646.6,295.3 647.7,299.3 648.6,303.1 649.5,304.1 650.6,299.7 651.5,301.2 652.1,312.2 653.4,323.7 654.4,352.1 655.2,347.4 656.4,341.3 657.3,333.0 658.3,329.6 659.2,333.5 660.3,332.5 661.5,329.7 662.2,329.0 663.2,322.7 664.0,323.2 665.2,324.7 666.2,320.4 667.1,318.8 668.1,321.2 669.0,324.0 670.1,323.7 671.2,319.2 672.2,316.0 673.0,311.3 674.0,306.1 674.8,302.9 676.0,295.2 676.9,294.4 677.9,298.2 678.9,302.2 679.8,297.3 680.7,297.8 681.8,297.3 682.7,293.6 683.8,300.3 684.7,299.2 685.7,296.5 686.3,297.4 687.7,294.4 688.7,294.8 689.9,297.0 690.6,298.5 691.7,297.6 692.5,296.6 693.5,298.3 694.8,300.5 695.5,299.0 696.7,300.1 697.7,300.2 698.4,298.9 699.4,301.2 700.6,300.5 701.4,302.6 702.8,298.6 703.6,298.8 705.0,301.7 706.0,300.4 707.2,299.2 708.2,295.6 709.1,290.2 710.2,282.6 711.2,280.4 712.3,280.1 713.0,281.4 714.1,280.4 715.1,279.7 716.0,281.2 717.2,278.5 718.3,283.4 719.1,279.0 720.0,278.7 721.1,282.3 722.4,278.3 723.5,280.9 724.4,285.0 725.3,284.3 726.5,290.7 727.4,291.0 728.5,288.5 729.4,288.9 730.3,287.7 731.4,285.8 732.2,285.3 733.3,288.3 734.2,284.9 735.4,286.0 736.1,283.6 737.2,286.8 738.6,284.8 739.1,286.0 740.5,284.2 741.1,281.1 742.2,282.5 743.1,278.9 744.0,277.8 745.3,277.9 746.1,273.0 747.1,265.7 748.0,267.2 749.0,264.5 749.9,263.8 751.0,257.0 751.9,256.4 752.9,255.5 753.8,251.2 755.0,244.7 756.0,246.4 756.8,242.7 757.8,245.2 758.6,236.8 759.6,236.7 760.7,237.8 761.4,239.6 762.4,241.7 763.6,242.7 764.6,241.3 765.5,238.2 766.4,235.7 767.5,234.8 768.5,221.9 769.5,218.2 770.5,220.9 771.8,218.5 772.5,211.7 773.4,203.3 774.6,195.2 775.3,189.6 776.3,183.1 777.3,176.9 778.3,181.7 779.3,187.6 780.2,184.8 781.2,183.7 782.1,189.9 783.2,200.3 784.1,203.2 785.1,197.4 786.2,189.6 786.9,184.1 788.2,175.0 789.0,168.1 790.0,166.6 790.9,167.1 792.0,162.2 793.2,156.0 794.5,149.5 795.4,161.1 796.9,167.1 797.8,163.5 798.9,163.8 799.8,160.2 800.5,157.3 801.7,150.6 802.7,143.6 803.8,144.3 804.4,145.8 805.7,149.5 807.2,156.3 808.2,150.7 809.6,146.5 810.6,146.3 811.8,149.1 812.5,149.5 813.3,146.2 814.4,142.2 815.5,140.7 816.5,141.6 817.1,145.9 818.4,150.4 819.4,156.6 820.4,160.2 821.4,155.5 822.3,149.5 823.3,150.2 824.3,150.8 825.3,148.7 826.2,147.5 827.2,152.1 828.2,162.2 829.2,171.5 830.1,181.8 831.3,183.1 832.1,189.6 832.9,187.2 834.0,181.2 835.0,181.8 835.9,185.5 837.0,189.6 837.9,185.8 838.8,182.8 839.9,177.8 841.0,182.4 841.7,192.0 842.7,190.9 843.8,196.4 844.6,195.0 845.8,189.6 846.8,187.6 847.6,186.9 848.4,189.1 849.7,188.4 850.7,192.6 851.7,193.5 852.6,192.3 853.7,199.4 854.5,200.0 855.6,202.3 856.5,196.7 857.4,186.4 858.5,181.8 859.5,181.6 860.4,178.1 861.4,172.9 862.3,172.4 863.8,168.1 864.4,166.1 865.3,166.6 866.4,164.0 867.3,165.5 868.3,162.2 869.2,159.2 870.2,162.9 871.2,163.2 872.2,163.4 873.0,160.1 874.2,156.3 875.5,161.5 876.2,165.0 877.1,167.1 878.4,165.9 879.1,164.1 880.1,166.6 881.1,173.5 882.0,176.9 883.0,173.8 884.0,171.8 884.9,170.0 885.7,163.9 887.0,158.2 887.9,152.4 888.8,147.1 889.7,146.8 890.7,142.5 891.8,138.7 893.1,142.8 893.7,146.5 894.7,144.6 895.7,145.3 896.9,143.5 897.7,142.6 898.8,137.5 899.8,137.3 900.6,134.8 901.5,137.1 902.6,139.3 903.5,140.7 904.6,144.7 905.5,148.5 906.1,147.8 907.5,150.9 908.4,149.5 909.4,153.0 910.3,157.9 911.4,159.2 912.3,159.3 913.1,164.4 914.2,165.9 915.3,165.1 916.5,161.5 917.1,162.0 918.4,160.0 919.2,159.2 920.1,163.8 921.2,164.6 922.1,166.1 923.1,166.8 924.0,169.9 925.0,171.0 926.0,173.9 926.9,173.6 928.2,172.4 929.0,172.9 930.1,181.7 930.9,189.6 932.0,189.9 932.7,190.0 933.8,185.3 934.8,181.8 936.1,181.7 936.7,170.9 937.8,171.0 938.9,172.3 939.7,172.4 940.7,171.0 941.8,176.4 942.8,180.0 943.6,184.7 944.7,175.8 945.7,173.6 946.6,171.0 947.4,174.5 948.4,179.5 949.5,182.7 950.2,178.7 951.5,178.1 952.4,175.9 953.4,176.0 954.4,174.3 955.4,170.3 956.3,170.7 957.3,166.4 958.3,165.1 959.1,167.5 960.2,171.5 961.1,172.6 962.2,173.9 963.2,175.4 964.5,174.7 965.4,176.9 966.0,178.8 967.1,177.8 968.1,177.9 969.1,179.5 969.8,179.7 970.7,180.6 972.0,181.8 972.9,187.4 974.0,191.5 974.9,196.0 975.9,203.3 976.7,203.4 977.7,199.2 978.7,198.2 979.7,204.7 980.8,201.3 981.6,202.0 982.7,200.7 983.8,199.4 984.7,202.3 985.7,198.4 986.6,203.0 987.7,207.2 988.7,224.1 989.7,233.1 990.7,239.8 991.7,238.4 992.3,237.2 993.6,231.0 994.7,234.3 995.6,238.8 996.4,235.2 997.3,232.4 998.5,230.0 999.9,234.6 1000.5,238.8 1001.3,237.1 1002.4,229.3 1003.3,229.0 1004.4,223.2 1005.5,224.8 1006.3,229.0 1007.2,228.9 1008.1,223.5 1009.0,222.6 1010.3,222.2 1011.2,222.6 1012.5,221.1 1013.2,219.2 1014.0,225.0 1015.3,228.1 1016.1,230.0 1016.9,230.1 1017.8,232.7 1018.7,237.2 1020.0,235.9 1020.9,232.0 1022.0,231.9 1022.9,231.1 1023.6,231.0 1024.9,227.1 1025.8,232.4 1026.9,237.8 1027.9,239.1 1028.7,238.1 1029.8,240.8 1030.8,241.5 1032.1,237.9 1032.5,242.8 1034.1,238.3 1034.7,236.9 1035.7,239.0 1036.6,237.8 1037.7,238.8 1038.6,237.6 1039.6,238.6 1040.4,235.5 1041.4,235.4 1042.7,234.4 1043.5,233.9 1044.6,233.9 1045.5,233.1 1046.4,231.5 1047.4,231.0 1048.2,243.7 1049.4,253.5 1050.4,255.3 1051.3,250.6 1052.3,250.0 1053.3,250.6 1054.5,250.7 1055.3,253.5 1056.1,250.9 1057.2,249.9 1058.8,250.1 1059.6,250.3 1061.1,246.5 1062.0,247.4 1063.1,245.7 1064.4,250.2 1065.0,250.6 1066.0,253.1 1067.1,251.3 1067.8,249.4 1068.8,250.7 1069.9,250.5 1070.8,255.0 1071.9,250.6 1072.8,248.1 1074.0,246.8 1074.8,243.7 1075.7,235.9 1076.8,230.0 1077.6,225.2 1078.8,227.6 1079.7,223.0 1080.7,223.2 1081.8,223.0 1082.6,221.6 1083.5,219.0 1084.6,222.2 1085.3,226.9 1086.6,224.8 1087.6,227.1 1088.4,223.5 1089.5,221.1 1090.5,218.3 1091.2,219.4 1092.3,220.5 1093.5,220.9 1094.4,223.2 1095.5,227.1 1096.5,227.6 1097.5,233.5 1098.3,233.9 1099.3,228.7 1100.4,217.9 1101.3,210.4 1102.3,207.4 1103.2,208.6 1104.0,206.0 1105.3,208.8 1106.1,208.5 1107.1,209.4 1107.9,206.2 1109.0,206.3 1110.3,205.7 1110.8,203.5 1111.8,201.0 1113.0,201.6 1114.2,201.6 1114.7,206.6 1115.9,208.5 1117.1,208.5 1117.7,205.4 1118.9,204.2 1119.8,203.6 1121.0,205.9 1121.9,208.2 1122.8,209.6 1123.7,205.2 1124.7,209.9 1125.7,210.4 1126.6,212.0 1127.9,208.3 1128.7,211.2 1129.8,211.6 1130.2,210.3 1131.6,209.5 1132.5,209.2 1133.6,209.6 1134.5,214.7 1135.8,211.2 1136.3,213.5 1137.5,215.3 1138.5,212.1 1139.6,206.7 1140.3,203.4 1141.4,200.7 1142.6,200.9 1143.7,199.2 1145.2,200.1 1146.1,198.8 1147.0,199.9 1148.2,201.2 1149.2,199.7 1150.4,202.7 1151.3,199.7 1152.6,202.3 1153.7,204.6 1155.0,204.5 1155.7,203.4 1157.0,203.6 1157.9,201.3 1159.2,206.5 1160.5,205.8 1161.7,206.6 1162.7,203.3 1163.8,206.4 1164.9,210.1 1166.0,213.3 1167.0,212.5 1167.7,216.7 1168.9,214.3 1170.1,214.3 1171.1,214.0 1172.2,211.3 1173.1,213.3 1173.6,215.0 1175.0,213.4 1176.0,215.0 1177.0,217.5 1177.8,214.5 1179.3,216.2 1180.0,213.1 1181.1,209.4 1182.1,217.1 1183.1,213.9 1184.2,209.1 1185.0,208.2 1186.0,210.0 1187.1,206.9 1188.1,203.5 1188.8,197.6 1189.9,195.5 1191.0,191.7 1191.8,188.4 1192.8,189.1 1193.9,186.6 1195.2,188.7 1196.0,191.3 1197.4,185.4 1198.2,185.4 1199.3,185.0 1200.3,187.1 1201.3,180.5 1202.6,182.2 1203.6,177.8 1204.9,180.3 1206.0,176.9 1207.0,177.0 1207.8,177.4 1209.1,175.0 1209.8,173.8 1211.3,173.6 1211.9,176.4 1213.1,177.6 1214.5,173.8 1215.3,173.1 1216.5,168.3 1217.0,168.4 1218.5,174.5 1219.3,171.8 1220.8,170.4 1221.6,169.9 1222.6,166.2 1223.6,165.9 1224.3,165.9 1225.4,172.3 1226.5,173.8 1227.7,179.7 1228.5,178.0 1229.7,176.7 1230.4,174.2 1231.3,176.2 1232.2,172.7 1233.4,172.1 1234.6,169.4 1235.4,164.8 1236.2,161.6 1237.5,158.0 1238.3,157.4 1239.3,161.6 1240.3,155.4 1241.2,156.4 1242.3,149.6 1243.2,144.6 1244.1,137.8 1245.0,136.8 1245.8,132.6 1246.9,130.4 1248.1,129.0 1248.9,132.7 1250.1,137.1 1251.0,140.8 1251.9,135.9 1253.1,134.6 1254.1,137.4 1254.9,132.0 1256.1,131.1 1257.1,128.6 1257.4,130.0 1258.8,131.0 1260.0,138.0 1260.8,133.0 1261.8,136.5 1262.6,136.0 1263.7,140.8 1264.7,142.7 1265.7,145.0 1266.5,148.2 1267.3,145.2 1268.6,145.7 1269.8,142.3 1270.6,142.0 1271.4,142.7 1272.5,141.8 1273.4,139.2 1274.6,137.0 1275.4,137.2 1276.5,132.2 1277.4,132.0 1278.5,131.8 1279.5,137.0 1280.3,131.9 1281.2,130.4 1282.3,130.1 1283.3,132.0 1284.4,132.3 1285.2,133.5 1286.5,133.1 1287.5,137.5 1288.4,139.2 1289.2,138.8 1290.4,140.1 1291.3,147.5 1292.9,146.4 1293.8,146.8 1294.8,150.2 1296.0,149.6 1296.8,147.7 1297.9,142.8 1299.0,141.1 1299.7,139.5 1300.9,135.9 1302.1,139.8 1302.8,137.3 1303.9,135.7 1304.8,135.9 1305.5,142.2 1307.2,148.4 1307.7,152.5 1308.8,147.2 1309.7,149.9 1310.5,150.2 1311.9,146.1 1312.6,143.8 1313.5,142.7 1314.6,140.8 1315.4,145.8 1316.4,146.4 1317.5,148.0 1318.5,143.6 1319.4,148.5 1320.5,152.5 1321.4,153.5 1323.0,146.5 1324.1,146.9 1324.8,145.3 1326.3,142.6 1327.2,142.6 1328.3,138.8 1329.3,139.9 1330.6,139.6 1331.1,141.8 1332.3,141.8 1333.2,143.7 1334.2,143.2 1335.2,138.9 1335.9,135.2 1337.0,138.2 1338.1,134.9 1339.3,135.0 1340.0,134.9 1341.1,137.1 1342.1,131.6 1342.8,132.4 1343.9,131.0 1344.9,126.5 1345.9,117.9 1346.8,116.5 1347.9,112.4 1348.8,107.2 1349.9,108.4 1350.9,104.3 1351.8,104.6 1352.9,101.6 1353.9,105.8 1355.2,101.6 1356.1,101.2 1357.4,101.8 1358.2,96.4 1359.3,98.0 1360.4,97.7 1361.6,98.7 1362.4,100.8 1363.6,101.9 1364.5,101.7 1365.5,107.8 1366.4,104.8 1367.4,107.5 1368.4,105.7 1369.2,109.2 1370.5,107.1 1371.3,106.5 1372.3,107.5 1373.1,103.3 1374.6,102.1 1375.1,100.1 1376.2,98.7 1377.2,98.5 1378.2,101.6 1379.2,105.1 1380.2,104.8 1380.9,104.1 1382.1,103.5 1383.1,104.6 1383.8,104.3 1385.0,106.6 1386.0,104.2 1387.1,104.8 1387.9,102.9 1389.0,105.5 1390.0,109.0 1390.9,110.7 1391.9,112.8 1392.9,117.3 1393.7,120.8 1395.0,122.8 1395.8,121.2 1396.9,119.2 1397.5,116.1 1398.7,115.2 1399.6,115.9 1400.7,115.3 1401.4,115.7 1402.4,116.7 1403.6,114.8 1404.6,116.3 1405.4,116.4 1406.5,119.0 1407.5,123.2 1408.6,122.0 1409.4,116.7 1410.5,116.3" fill="none" stroke="#060606" stroke-width="1.25" stroke-linejoin="round"/>
<g font-size="10" fill="#b5b5b5" stroke="#b5b5b5" stroke-width="0.22"><text transform="translate(1413.55 272.30) scale(0.917 1)" text-anchor="middle">0</text><text x="1418.65" y="272.30" text-anchor="middle">.</text><text transform="translate(1423.75 272.30) scale(0.917 1)" text-anchor="middle">4</text><text transform="translate(1428.85 272.30) scale(0.917 1)" text-anchor="middle">1</text><text transform="translate(1433.95 272.30) scale(0.917 1)" text-anchor="middle">9</text></g>
<line x1="1411" y1="274" x2="1437" y2="274" stroke="#cfcfcf" stroke-width="0.8"/>
<rect x="163.2" y="79.3" width="1306.8" height="408.09999999999997" fill="none" stroke="#555" stroke-width="1.1"/>
<path d="M180.6 487.4v-3.2M180.6 79.3v3.2 M328.9 487.4v-3.2M328.9 79.3v3.2 M477.3 487.4v-3.2M477.3 79.3v3.2 M625.6 487.4v-3.2M625.6 79.3v3.2 M774.0 487.4v-3.2M774.0 79.3v3.2 M922.4 487.4v-3.2M922.4 79.3v3.2 M1070.7 487.4v-3.2M1070.7 79.3v3.2 M1219.0 487.4v-3.2M1219.0 79.3v3.2 M1367.4 487.4v-3.2M1367.4 79.3v3.2 M163.2 483.4h4 M163.2 293.2h4 M163.2 102.9h4 M163.2 426.2h2.2 M163.2 392.7h2.2 M163.2 368.9h2.2 M163.2 350.5h2.2 M163.2 335.4h2.2 M163.2 322.7h2.2 M163.2 311.6h2.2 M163.2 301.9h2.2 M163.2 235.9h2.2 M163.2 202.4h2.2 M163.2 178.7h2.2 M163.2 160.2h2.2 M163.2 145.2h2.2 M163.2 132.4h2.2 M163.2 121.4h2.2 M163.2 111.7h2.2 M1470.0 468.2h-4 M1470.0 421.6h-4 M1470.0 374.9h-4 M1470.0 328.3h-4 M1470.0 281.6h-4 M1470.0 235.0h-4 M1470.0 188.4h-4 M1470.0 141.7h-4 M1470.0 95.1h-4" stroke="#555" stroke-width="1" fill="none"/>
<g font-size="10.4" fill="#222" stroke="#222" stroke-width="0.22"><text transform="translate(172.60 500.00) scale(0.899 1)" text-anchor="middle">2</text><text transform="translate(177.80 500.00) scale(0.899 1)" text-anchor="middle">0</text><text transform="translate(183.00 500.00) scale(0.899 1)" text-anchor="middle">1</text><text transform="translate(188.20 500.00) scale(0.899 1)" text-anchor="middle">7</text></g>
<g font-size="10.4" fill="#222" stroke="#222" stroke-width="0.22"><text transform="translate(320.95 500.00) scale(0.899 1)" text-anchor="middle">2</text><text transform="translate(326.15 500.00) scale(0.899 1)" text-anchor="middle">0</text><text transform="translate(331.35 500.00) scale(0.899 1)" text-anchor="middle">1</text><text transform="translate(336.55 500.00) scale(0.899 1)" text-anchor="middle">8</text></g>
<g font-size="10.4" fill="#222" stroke="#222" stroke-width="0.22"><text transform="translate(469.30 500.00) scale(0.899 1)" text-anchor="middle">2</text><text transform="translate(474.50 500.00) scale(0.899 1)" text-anchor="middle">0</text><text transform="translate(479.70 500.00) scale(0.899 1)" text-anchor="middle">1</text><text transform="translate(484.90 500.00) scale(0.899 1)" text-anchor="middle">9</text></g>
<g font-size="10.4" fill="#222" stroke="#222" stroke-width="0.22"><text transform="translate(617.65 500.00) scale(0.899 1)" text-anchor="middle">2</text><text transform="translate(622.85 500.00) scale(0.899 1)" text-anchor="middle">0</text><text transform="translate(628.05 500.00) scale(0.899 1)" text-anchor="middle">2</text><text transform="translate(633.25 500.00) scale(0.899 1)" text-anchor="middle">0</text></g>
<g font-size="10.4" fill="#222" stroke="#222" stroke-width="0.22"><text transform="translate(766.00 500.00) scale(0.899 1)" text-anchor="middle">2</text><text transform="translate(771.20 500.00) scale(0.899 1)" text-anchor="middle">0</text><text transform="translate(776.40 500.00) scale(0.899 1)" text-anchor="middle">2</text><text transform="translate(781.60 500.00) scale(0.899 1)" text-anchor="middle">1</text></g>
<g font-size="10.4" fill="#222" stroke="#222" stroke-width="0.22"><text transform="translate(914.35 500.00) scale(0.899 1)" text-anchor="middle">2</text><text transform="translate(919.55 500.00) scale(0.899 1)" text-anchor="middle">0</text><text transform="translate(924.75 500.00) scale(0.899 1)" text-anchor="middle">2</text><text transform="translate(929.95 500.00) scale(0.899 1)" text-anchor="middle">2</text></g>
<g font-size="10.4" fill="#222" stroke="#222" stroke-width="0.22"><text transform="translate(1062.70 500.00) scale(0.899 1)" text-anchor="middle">2</text><text transform="translate(1067.90 500.00) scale(0.899 1)" text-anchor="middle">0</text><text transform="translate(1073.10 500.00) scale(0.899 1)" text-anchor="middle">2</text><text transform="translate(1078.30 500.00) scale(0.899 1)" text-anchor="middle">3</text></g>
<g font-size="10.4" fill="#222" stroke="#222" stroke-width="0.22"><text transform="translate(1211.05 500.00) scale(0.899 1)" text-anchor="middle">2</text><text transform="translate(1216.25 500.00) scale(0.899 1)" text-anchor="middle">0</text><text transform="translate(1221.45 500.00) scale(0.899 1)" text-anchor="middle">2</text><text transform="translate(1226.65 500.00) scale(0.899 1)" text-anchor="middle">4</text></g>
<g font-size="10.4" fill="#222" stroke="#222" stroke-width="0.22"><text transform="translate(1359.40 500.00) scale(0.899 1)" text-anchor="middle">2</text><text transform="translate(1364.60 500.00) scale(0.899 1)" text-anchor="middle">0</text><text transform="translate(1369.80 500.00) scale(0.899 1)" text-anchor="middle">2</text><text transform="translate(1375.00 500.00) scale(0.899 1)" text-anchor="middle">5</text></g>
<g font-size="10.4" fill="#222" stroke="#222" stroke-width="0.22"><text transform="translate(1476.20 472.00) scale(0.899 1)" text-anchor="middle">0</text><text x="1481.40" y="472.00" text-anchor="middle">.</text><text transform="translate(1486.60 472.00) scale(0.899 1)" text-anchor="middle">0</text></g>
<g font-size="10.4" fill="#222" stroke="#222" stroke-width="0.22"><text transform="translate(1476.20 425.36) scale(0.899 1)" text-anchor="middle">0</text><text x="1481.40" y="425.36" text-anchor="middle">.</text><text transform="translate(1486.60 425.36) scale(0.899 1)" text-anchor="middle">1</text></g>
<g font-size="10.4" fill="#222" stroke="#222" stroke-width="0.22"><text transform="translate(1476.20 378.72) scale(0.899 1)" text-anchor="middle">0</text><text x="1481.40" y="378.72" text-anchor="middle">.</text><text transform="translate(1486.60 378.72) scale(0.899 1)" text-anchor="middle">2</text></g>
<g font-size="10.4" fill="#222" stroke="#222" stroke-width="0.22"><text transform="translate(1476.20 332.08) scale(0.899 1)" text-anchor="middle">0</text><text x="1481.40" y="332.08" text-anchor="middle">.</text><text transform="translate(1486.60 332.08) scale(0.899 1)" text-anchor="middle">3</text></g>
<g font-size="10.4" fill="#222" stroke="#222" stroke-width="0.22"><text transform="translate(1476.20 285.44) scale(0.899 1)" text-anchor="middle">0</text><text x="1481.40" y="285.44" text-anchor="middle">.</text><text transform="translate(1486.60 285.44) scale(0.899 1)" text-anchor="middle">4</text></g>
<g font-size="10.4" fill="#222" stroke="#222" stroke-width="0.22"><text transform="translate(1476.20 238.80) scale(0.899 1)" text-anchor="middle">0</text><text x="1481.40" y="238.80" text-anchor="middle">.</text><text transform="translate(1486.60 238.80) scale(0.899 1)" text-anchor="middle">5</text></g>
<g font-size="10.4" fill="#222" stroke="#222" stroke-width="0.22"><text transform="translate(1476.20 192.16) scale(0.899 1)" text-anchor="middle">0</text><text x="1481.40" y="192.16" text-anchor="middle">.</text><text transform="translate(1486.60 192.16) scale(0.899 1)" text-anchor="middle">6</text></g>
<g font-size="10.4" fill="#222" stroke="#222" stroke-width="0.22"><text transform="translate(1476.20 145.52) scale(0.899 1)" text-anchor="middle">0</text><text x="1481.40" y="145.52" text-anchor="middle">.</text><text transform="translate(1486.60 145.52) scale(0.899 1)" text-anchor="middle">7</text></g>
<g font-size="10.4" fill="#222" stroke="#222" stroke-width="0.22"><text transform="translate(1476.20 98.88) scale(0.899 1)" text-anchor="middle">0</text><text x="1481.40" y="98.88" text-anchor="middle">.</text><text transform="translate(1486.60 98.88) scale(0.899 1)" text-anchor="middle">8</text></g>
<g font-size="10.4" fill="#222" stroke="#222" stroke-width="0.22"><text transform="translate(148.20 487.35) scale(0.899 1)" text-anchor="middle">1</text><text transform="translate(153.40 487.35) scale(0.899 1)" text-anchor="middle">0</text></g>
<text x="156.2" y="482.8" font-size="7" fill="#222">3</text>
<g font-size="10.4" fill="#222" stroke="#222" stroke-width="0.22"><text transform="translate(148.20 297.10) scale(0.899 1)" text-anchor="middle">1</text><text transform="translate(153.40 297.10) scale(0.899 1)" text-anchor="middle">0</text></g>
<text x="156.2" y="292.6" font-size="7" fill="#222">4</text>
<g font-size="10.4" fill="#222" stroke="#222" stroke-width="0.22"><text transform="translate(148.20 106.85) scale(0.899 1)" text-anchor="middle">1</text><text transform="translate(153.40 106.85) scale(0.899 1)" text-anchor="middle">0</text></g>
<text x="156.2" y="102.3" font-size="7" fill="#222">5</text>
<g font-size="10.6" fill="#222" stroke="#222" stroke-width="0.22"><text transform="translate(808.47 512.60) scale(0.826 1)" text-anchor="middle">T</text><text x="813.82" y="512.60" text-anchor="middle">i</text><text transform="translate(819.17 512.60) scale(0.606 1)" text-anchor="middle">m</text><text transform="translate(824.52 512.60) scale(0.908 1)" text-anchor="middle">e</text></g>
<g transform="rotate(-90 133 283.6)"><g font-size="10.6" fill="#222" stroke="#222" stroke-width="0.22"><text transform="translate(111.60 287.30) scale(0.757 1)" text-anchor="middle">B</text><text transform="translate(116.95 287.30) scale(0.826 1)" text-anchor="middle">T</text><text transform="translate(122.30 287.30) scale(0.699 1)" text-anchor="middle">C</text><text transform="translate(133.00 287.30) scale(0.757 1)" text-anchor="middle">P</text><text x="138.35" y="287.30" text-anchor="middle">r</text><text x="143.70" y="287.30" text-anchor="middle">i</text><text x="149.05" y="287.30" text-anchor="middle">c</text><text transform="translate(154.40 287.30) scale(0.908 1)" text-anchor="middle">e</text></g></g>
<g transform="rotate(-90 1499.6 283.6)"><g font-size="10.6" fill="#222" stroke="#222" stroke-width="0.22"><text transform="translate(1440.75 287.30) scale(0.699 1)" text-anchor="middle">R</text><text transform="translate(1446.10 287.30) scale(0.908 1)" text-anchor="middle">e</text><text transform="translate(1451.45 287.30) scale(0.908 1)" text-anchor="middle">a</text><text x="1456.80" y="287.30" text-anchor="middle">l</text><text x="1462.15" y="287.30" text-anchor="middle">i</text><text x="1467.50" y="287.30" text-anchor="middle">z</text><text transform="translate(1472.85 287.30) scale(0.908 1)" text-anchor="middle">e</text><text transform="translate(1478.20 287.30) scale(0.908 1)" text-anchor="middle">d</text><text transform="translate(1488.90 287.30) scale(0.699 1)" text-anchor="middle">C</text><text transform="translate(1494.25 287.30) scale(0.908 1)" text-anchor="middle">a</text><text transform="translate(1499.60 287.30) scale(0.908 1)" text-anchor="middle">p</text><text transform="translate(1510.30 287.30) scale(0.699 1)" text-anchor="middle">H</text><text transform="translate(1515.65 287.30) scale(0.649 1)" text-anchor="middle">O</text><text transform="translate(1521.00 287.30) scale(0.699 1)" text-anchor="middle">D</text><text transform="translate(1526.35 287.30) scale(0.908 1)" text-anchor="middle">L</text><text transform="translate(1537.05 287.30) scale(0.535 1)" text-anchor="middle">W</text><text transform="translate(1542.40 287.30) scale(0.908 1)" text-anchor="middle">a</text><text x="1547.75" y="287.30" text-anchor="middle">v</text><text transform="translate(1553.10 287.30) scale(0.908 1)" text-anchor="middle">e</text><text x="1558.45" y="287.30" text-anchor="middle">s</text></g></g>
<text x="816.8" y="73.6" font-size="12.9" text-anchor="middle" fill="#262626" font-family="'Liberation Sans', 'Noto Sans CJK SC', sans-serif">不同的长期参与者持仓结构</text>
<rect x="36.6" y="18.2" width="87.6" height="119.6" rx="2" ry="2" fill="#ffffff" stroke="#dcdcdc" stroke-width="1"/>
<line x1="40.6" y1="26.7" x2="63.3" y2="26.7" stroke="#111" stroke-width="1.1"/>
<g font-size="10.4" fill="#222" stroke="#222" stroke-width="0.22"><text transform="translate(73.27 30.40) scale(0.771 1)" text-anchor="middle">B</text><text transform="translate(78.62 30.40) scale(0.842 1)" text-anchor="middle">T</text><text transform="translate(83.97 30.40) scale(0.712 1)" text-anchor="middle">C</text><text transform="translate(94.67 30.40) scale(0.771 1)" text-anchor="middle">P</text><text x="100.02" y="30.40" text-anchor="middle">r</text><text x="105.38" y="30.40" text-anchor="middle">i</text><text x="110.72" y="30.40" text-anchor="middle">c</text><text transform="translate(116.07 30.40) scale(0.925 1)" text-anchor="middle">e</text></g>
<rect x="40.6" y="38.1" width="22.7" height="6.6" fill="#faf6b9"/>
<g font-size="10.4" fill="#222" stroke="#222" stroke-width="0.22"><text transform="translate(73.27 45.06) scale(0.925 1)" text-anchor="middle">6</text><text transform="translate(78.62 45.06) scale(0.618 1)" text-anchor="middle">m</text><text transform="translate(83.97 45.06) scale(0.925 1)" text-anchor="middle">_</text><text transform="translate(89.32 45.06) scale(0.925 1)" text-anchor="middle">1</text><text transform="translate(94.67 45.06) scale(0.925 1)" text-anchor="middle">2</text><text transform="translate(100.02 45.06) scale(0.618 1)" text-anchor="middle">m</text></g>
<rect x="40.6" y="52.7" width="22.7" height="6.6" fill="#ccf8b6"/>
<g font-size="10.4" fill="#222" stroke="#222" stroke-width="0.22"><text transform="translate(73.27 59.72) scale(0.925 1)" text-anchor="middle">1</text><text x="78.62" y="59.72" text-anchor="middle">y</text><text transform="translate(83.97 59.72) scale(0.925 1)" text-anchor="middle">_</text><text transform="translate(89.32 59.72) scale(0.925 1)" text-anchor="middle">2</text><text x="94.67" y="59.72" text-anchor="middle">y</text></g>
<rect x="40.6" y="67.4" width="22.7" height="6.6" fill="#bbf6d2"/>
<g font-size="10.4" fill="#222" stroke="#222" stroke-width="0.22"><text transform="translate(73.27 74.38) scale(0.925 1)" text-anchor="middle">2</text><text x="78.62" y="74.38" text-anchor="middle">y</text><text transform="translate(83.97 74.38) scale(0.925 1)" text-anchor="middle">_</text><text transform="translate(89.32 74.38) scale(0.925 1)" text-anchor="middle">3</text><text x="94.67" y="74.38" text-anchor="middle">y</text></g>
<rect x="40.6" y="82.0" width="22.7" height="6.6" fill="#98e6de"/>
<g font-size="10.4" fill="#222" stroke="#222" stroke-width="0.22"><text transform="translate(73.27 89.04) scale(0.925 1)" text-anchor="middle">3</text><text x="78.62" y="89.04" text-anchor="middle">y</text><text transform="translate(83.97 89.04) scale(0.925 1)" text-anchor="middle">_</text><text transform="translate(89.32 89.04) scale(0.925 1)" text-anchor="middle">5</text><text x="94.67" y="89.04" text-anchor="middle">y</text></g>
<rect x="40.6" y="96.7" width="22.7" height="6.6" fill="#70bad8"/>
<g font-size="10.4" fill="#222" stroke="#222" stroke-width="0.22"><text transform="translate(73.27 103.70) scale(0.925 1)" text-anchor="middle">5</text><text x="78.62" y="103.70" text-anchor="middle">y</text><text transform="translate(83.97 103.70) scale(0.925 1)" text-anchor="middle">_</text><text transform="translate(89.32 103.70) scale(0.925 1)" text-anchor="middle">7</text><text x="94.67" y="103.70" text-anchor="middle">y</text></g>
<rect x="40.6" y="111.4" width="22.7" height="6.6" fill="#5585be"/>
<g font-size="10.4" fill="#222" stroke="#222" stroke-width="0.22"><text transform="translate(73.27 118.36) scale(0.925 1)" text-anchor="middle">7</text><text x="78.62" y="118.36" text-anchor="middle">y</text><text transform="translate(83.97 118.36) scale(0.925 1)" text-anchor="middle">_</text><text transform="translate(89.32 118.36) scale(0.925 1)" text-anchor="middle">1</text><text transform="translate(94.67 118.36) scale(0.925 1)" text-anchor="middle">0</text><text x="100.02" y="118.36" text-anchor="middle">y</text></g>
<rect x="40.6" y="126.0" width="22.7" height="6.6" fill="#7a68c4"/>
<g font-size="10.4" fill="#222" stroke="#222" stroke-width="0.22"><text transform="translate(73.27 133.02) scale(0.618 1)" text-anchor="middle">m</text><text transform="translate(78.62 133.02) scale(0.925 1)" text-anchor="middle">o</text><text x="83.97" y="133.02" text-anchor="middle">r</text><text transform="translate(89.32 133.02) scale(0.925 1)" text-anchor="middle">e</text><text transform="translate(94.67 133.02) scale(0.925 1)" text-anchor="middle">_</text><text transform="translate(100.02 133.02) scale(0.925 1)" text-anchor="middle">1</text><text transform="translate(105.38 133.02) scale(0.925 1)" text-anchor="middle">0</text><text x="110.72" y="133.02" text-anchor="middle">y</text></g></g></svg>
</body></html>
